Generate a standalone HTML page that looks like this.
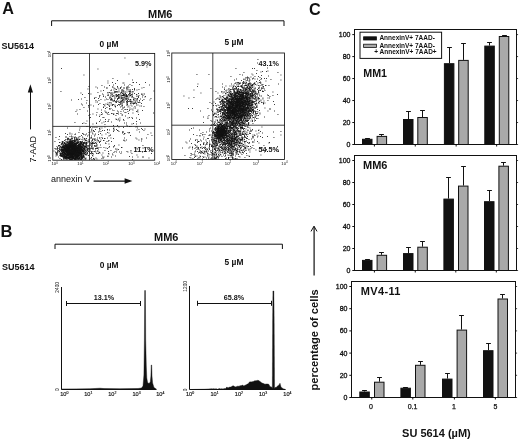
<!DOCTYPE html>
<html lang="en"><head><meta charset="utf-8"><title>SU5614 apoptosis figure</title>
<style>html,body{margin:0;padding:0;background:#fff}body{width:520px;height:440px;overflow:hidden}svg{display:block}text{font-family:"Liberation Sans", Arial, Helvetica, sans-serif;fill:#111}</style>
</head><body>
<svg width="520" height="440" viewBox="0 0 520 440">
<rect x="0" y="0" width="520" height="440" fill="#fff"/>
<text x="2.2" y="13.6" font-size="16.2" font-weight="bold" text-anchor="start">A</text>
<text x="0.6" y="237" font-size="16.6" font-weight="bold" text-anchor="start">B</text>
<text x="309" y="15" font-size="16.2" font-weight="bold" text-anchor="start">C</text>
<text x="160.2" y="18" font-size="11" font-weight="bold" text-anchor="middle">MM6</text>
<path d="M51.6 26V20.8H284V26" fill="none" stroke="#111" stroke-width="1"/>
<text x="1.6" y="49.4" font-size="9" font-weight="bold" text-anchor="start">SU5614</text>
<text x="109" y="47.4" font-size="8.4" font-weight="bold" text-anchor="middle">0 µM</text>
<text x="234" y="45" font-size="8.4" font-weight="bold" text-anchor="middle">5 µM</text>
<path d="M72 152.5h.9M71 147.5h.9M70 147h.9M72.5 157h.9M69.5 149h.9M74.5 153h.9M72.5 147.5h.9M72 154h.9M65.5 149.5h.9M62.5 146h.9M63 150.5h.9M66 152.5h.9M73 150.5h.9M59.5 149h.9M72 152h.9M64.5 149.5h.9M67.5 148h.9M77.5 148h.9M72 155h.9M69.5 151h.9M73 151.5h.9M66 151.5h.9M79 145h.9M76.5 152h.9M69 159.5h.9M76 146.5h.9M72.5 153.5h.9M71.5 154h.9M79.5 148.5h.9M73 149.5h.9M73 146.5h.9M69.5 150.5h.9M76.5 156h.9M65.5 148h.9M75.5 143h.9M70 151h.9M78.5 154h.9M70.5 150h.9M71 157.5h.9M70 150h.9M74 151h.9M71 146.5h.9M72 149.5h.9M78 154h.9M70.5 155.5h.9M72 153.5h.9M65.5 152.5h.9M64 143h.9M70.5 147.5h.9M68 148.5h.9M73 153.5h.9M71.5 150.5h.9M75.5 153.5h.9M67 151h.9M72.5 147h.9M73.5 148h.9M77 152h.9M72.5 149h.9M71.5 143h.9M66.5 153h.9M61.5 155h.9M63.5 154.5h.9M68 154.5h.9M73 145h.9M78.5 157h.9M72 150h.9M71.5 147.5h.9M77.5 149h.9M72 148h.9M69 146h.9M78.5 150.5h.9M77 151.5h.9M68.5 150h.9M69.5 151.5h.9M80.5 148.5h.9M67 152.5h.9M79 145.5h.9M71 148.5h.9M72 151.5h.9M68.5 153h.9M66.5 146.5h.9M79 149h.9M73.5 151h.9M70 149h.9M75.5 150h.9M71.5 151.5h.9M74 149h.9M65.5 155h.9M77 150.5h.9M75 154.5h.9M76.5 155h.9M70 157.5h.9M66 155h.9M74.5 155h.9M81.5 157.5h.9M66.5 144.5h.9M76.5 147h.9M72 154.5h.9M64 142.5h.9M73.5 151.5h.9M71 151.5h.9M68 145h.9M64 153.5h.9M72 153h.9M67.5 148.5h.9M67 147.5h.9M73 148h.9M74 152.5h.9M82.5 145.5h.9M76.5 151h.9M72 145.5h.9M70 154.5h.9M70.5 156h.9M72 142.5h.9M68.5 143h.9M56 149h.9M79 151.5h.9M66.5 147.5h.9M78 152h.9M72.5 151h.9M72.5 154.5h.9M75 152h.9M67 153.5h.9M69 156h.9M66 150.5h.9M72 146h.9M81 157.5h.9M74 140.5h.9M71 150.5h.9M78 152.5h.9M72 157.5h.9M69.5 149.5h.9M63 157.5h.9M77 155h.9M75.5 152h.9M73.5 150.5h.9M80 153.5h.9M72 149h.9M69 158h.9M74.5 151.5h.9M70.5 147h.9M70 150.5h.9M64 150.5h.9M68 155h.9M68.5 153.5h.9M80 150h.9M69 152h.9M72 147h.9M74.5 159.5h.9M66 147h.9M78.5 147.5h.9M77.5 157.5h.9M73.5 153.5h.9M82 150.5h.9M72.5 157.5h.9M77 147.5h.9M68 149h.9M73.5 152.5h.9M70.5 151h.9M73 151h.9M74.5 159h.9M75 151.5h.9M64 153h.9M62.5 145.5h.9M76.5 154h.9M71.5 144.5h.9M70.5 148.5h.9M66.5 151h.9M71.5 146.5h.9M78 155.5h.9M77.5 149.5h.9M75 151h.9M65.5 145.5h.9M76 150.5h.9M73.5 155.5h.9M63.5 148h.9M73 153h.9M73.5 146.5h.9M67.5 154.5h.9M74.5 143.5h.9M79 154h.9M79 149.5h.9M70.5 146.5h.9M85 150.5h.9M80 148.5h.9M73 144.5h.9M66 155.5h.9M74 147h.9M68 150h.9M67 146h.9M64.5 151.5h.9M69 147.5h.9M76.5 149h.9M79.5 148h.9M74 150.5h.9M72 144h.9M75.5 147h.9M63 151h.9M77.5 145h.9M67 148.5h.9M75 148h.9M74.5 147.5h.9M66 144h.9M81.5 150h.9M81.5 147h.9M64.5 147h.9M65.5 154.5h.9M76.5 147.5h.9M65 150h.9M79 139.5h.9M75 147h.9M77.5 147h.9M71 145h.9M67.5 157h.9M76.5 149.5h.9M68 143.5h.9M72 151h.9M72 156.5h.9M81.5 150.5h.9M68.5 151h.9M69 148.5h.9M68.5 147.5h.9M71 149h.9M65.5 151.5h.9M65.5 149h.9M70.5 143h.9M72.5 152h.9M71.5 149.5h.9M72.5 146.5h.9M73.5 152h.9M75 144.5h.9M74.5 152.5h.9M73.5 153h.9M69 150h.9M75.5 153h.9M75 156h.9M77 152.5h.9M64.5 155h.9M71.5 141h.9M74 145h.9M65.5 148.5h.9M78.5 150h.9M73.5 158.5h.9M80 151h.9M71 146h.9M74 152h.9M77 148h.9M75 155.5h.9M74 150h.9M63.5 150h.9M69 148h.9M61 150h.9M76.5 153h.9M69 151h.9M76 140h.9M71.5 153.5h.9M75.5 158.5h.9M73.5 154.5h.9M76.5 159.5h.9M71.5 151h.9M73 157h.9M67.5 150.5h.9M71 154.5h.9M67.5 152.5h.9M69 145h.9M77.5 153.5h.9M74.5 149.5h.9M77.5 150.5h.9M77.5 147.5h.9M68 152h.9M68.5 154h.9M73.5 147.5h.9M72.5 150h.9M77 148.5h.9M70 156.5h.9M83.5 159.5h.9M67.5 152h.9M74.5 148h.9M64 145.5h.9M75.5 148h.9M71.5 152h.9M78 151h.9M71 154h.9M64 147h.9M77 151h.9M71 150h.9M78.5 153.5h.9M75.5 149h.9M82 158.5h.9M75 154h.9M62 154h.9M71 153h.9M63.5 153h.9M60.5 156.5h.9M73.5 156h.9M82 151.5h.9M63 147.5h.9M66 149h.9M72.5 143h.9M64 151h.9M81.5 159.5h.9M69 157h.9M70.5 151.5h.9M67 150h.9M83.5 151h.9M71 153.5h.9M75.5 146.5h.9M71 155h.9M79.5 143.5h.9M69 149h.9M75.5 154h.9M76 150h.9M69 153.5h.9M67.5 143h.9M70.5 145h.9M69 153h.9M74 158h.9M66 153h.9M69 143h.9M75.5 151h.9M74 151.5h.9M75.5 151.5h.9M78.5 153h.9M74 153h.9M65 150.5h.9M71 152h.9M65.5 158h.9M72 148.5h.9M72.5 148.5h.9M75 148.5h.9M72 155.5h.9M85 147h.9M70 148h.9M67.5 147.5h.9M70 142.5h.9M65 149.5h.9M63.5 149.5h.9M76 153.5h.9M72 147.5h.9M66.5 148h.9M79.5 152h.9M78 149.5h.9M77 149h.9M76 149h.9M78.5 149.5h.9M72.5 151.5h.9M79 152.5h.9M76 152.5h.9M73 158.5h.9M67.5 151h.9M74.5 154.5h.9M70 152.5h.9M73 147h.9M82.5 150.5h.9M76 152h.9M65.5 155.5h.9M72 157h.9M73 148.5h.9M69.5 142.5h.9M68.5 150.5h.9M78 145.5h.9M78 148.5h.9M66.5 156.5h.9M71.5 146h.9M70.5 155h.9M74 154h.9M70 156h.9M73.5 155h.9M78 153.5h.9M83.5 148h.9M81.5 158.5h.9M62.5 147.5h.9M75.5 154.5h.9M76 151h.9M74.5 154h.9M61 154h.9M67 155h.9M74 147.5h.9M67.5 145h.9M77.5 151.5h.9M77.5 150h.9M70 159.5h.9M74 158.5h.9M70.5 153h.9M71 144h.9M71 142h.9M74 148.5h.9M73.5 145.5h.9M63.5 147h.9M62 147.5h.9M80 147h.9M75.5 145.5h.9M73.5 150h.9M81 152h.9M73 147.5h.9M75 150.5h.9M81 143h.9M70.5 148h.9M71 145.5h.9M78 147h.9M68 149.5h.9M68.5 155h.9M76.5 150h.9M66.5 145h.9M68.5 142h.9M76 148.5h.9M78 146.5h.9M79.5 141.5h.9M66.5 150h.9M78 142.5h.9M73 152h.9M83.5 145.5h.9M76 149.5h.9M70 146.5h.9M71.5 155.5h.9M74 153.5h.9M71.5 150h.9M76 147h.9M68.5 149.5h.9M68.5 156h.9M75.5 146h.9M68.5 158.5h.9M78.5 152h.9M69 147h.9M84 148h.9M74.5 155.5h.9M69.5 148h.9M64 147.5h.9M69 150.5h.9M63 146.5h.9M80.5 142.5h.9M70.5 152h.9M72 143.5h.9M71.5 148h.9M69.5 152h.9M75.5 155h.9M69.5 155h.9M78 156h.9M79 150.5h.9M71.5 154.5h.9M65.5 152h.9M69.5 150h.9M63.5 147.5h.9M75 158.5h.9M72 145h.9M68 145.5h.9M66 156.5h.9M73.5 145h.9M75.5 156.5h.9M70.5 152.5h.9M75.5 156h.9M78.5 156h.9M64.5 151h.9M74 149.5h.9M77 150h.9M77 155.5h.9M74 141h.9M69 149.5h.9M70 146h.9M68.5 154.5h.9M70 147.5h.9M73 154.5h.9M69 152.5h.9M68.5 157h.9M76 155h.9M78.5 152.5h.9M74.5 153.5h.9M79 153h.9M66.5 145.5h.9M80 148h.9M81 155.5h.9M80 144.5h.9M64.5 156h.9M69 154h.9M73 140.5h.9M68.5 152h.9M80 152.5h.9M79.5 158.5h.9M72.5 150.5h.9M64 155h.9M85.5 154h.9M68.5 146h.9M65.5 146h.9M69.5 143.5h.9M65.5 144.5h.9M82 145h.9M69 155h.9M80.5 150h.9M66.5 146h.9M65.5 147.5h.9M75 153.5h.9M75 144h.9M80 142.5h.9M85.5 146.5h.9M77 156.5h.9M66.5 154h.9M68.5 141h.9M86.5 154h.9M81.5 147.5h.9M79.5 158h.9M61 144.5h.9M82 156.5h.9M77 146h.9M73 158h.9M67.5 146.5h.9M66 157.5h.9M84 153.5h.9M70.5 154.5h.9M75 149h.9M70 144h.9M70 145.5h.9M72.5 153h.9M65 148h.9M80.5 155h.9M70.5 157.5h.9M64.5 157.5h.9M69 140h.9M85.5 158h.9M67 152h.9M65 148.5h.9M74.5 152h.9M78 151.5h.9M84 148.5h.9M73.5 143.5h.9M67.5 153.5h.9M70.5 149h.9M85.5 155h.9M72 150.5h.9M68 147.5h.9M67 149.5h.9M66 158h.9M74.5 158.5h.9M76 157.5h.9M78 158.5h.9M78.5 148.5h.9M68.5 148.5h.9M74.5 145.5h.9M82.5 156h.9M74.5 144h.9M62.5 155.5h.9M79 146.5h.9M73 157.5h.9M71 149.5h.9M80 147.5h.9M76.5 146h.9M59 151.5h.9M66.5 149.5h.9M80 146.5h.9M67 157.5h.9M72 146.5h.9M69.5 154.5h.9M75.5 150.5h.9M69 151.5h.9M63.5 146h.9M74 156.5h.9M83 154h.9M62 150.5h.9M70.5 149.5h.9M79 148.5h.9M69.5 156h.9M61 148h.9M67 146.5h.9M68 148h.9M80.5 152.5h.9M76.5 148h.9M71 156h.9M67 148h.9M82.5 152h.9M79.5 152.5h.9M75 145.5h.9M71 142.5h.9M66 147.5h.9M68 151h.9M80 155h.9M65 144h.9M66 149.5h.9M72.5 142.5h.9M67 151.5h.9M67.5 153h.9M62 156.5h.9M74 155.5h.9M73 156.5h.9M78.5 151h.9M65.5 154h.9M61 151h.9M72.5 141.5h.9M75.5 148.5h.9M76.5 143.5h.9M76 147.5h.9M71 147h.9M68.5 144h.9M68 150.5h.9M83.5 151.5h.9M69 154.5h.9M81 153.5h.9M68.5 155.5h.9M64.5 153h.9M67.5 155h.9M67 142.5h.9M77.5 148.5h.9M70.5 145.5h.9M65.5 146.5h.9M60.5 154.5h.9M66.5 147h.9M64.5 159h.9M68 152.5h.9M70 155.5h.9M81.5 152.5h.9M74 148h.9M69.5 148.5h.9M62 149.5h.9M69 145.5h.9M67.5 151.5h.9M77.5 155.5h.9M67 155.5h.9M72.5 156h.9M81 151h.9M70.5 146h.9M83 152h.9M77 147h.9M81 148.5h.9M75 152.5h.9M77.5 157h.9M71 151h.9M79.5 151h.9M82.5 147.5h.9M78.5 146.5h.9M75 157.5h.9M62.5 151h.9M70 153.5h.9M67 154h.9M64.5 153.5h.9M80 157h.9M68.5 146.5h.9M66 146.5h.9M72.5 148h.9M81 154h.9M66.5 151.5h.9M81.5 157h.9M69.5 145.5h.9M79 156h.9M73.5 144h.9M81 152.5h.9M78.5 149h.9M74.5 145h.9M68.5 151.5h.9M70 158h.9M76.5 154.5h.9M70.5 153.5h.9M72.5 144h.9M65.5 159h.9M65.5 157.5h.9M75 150h.9M66.5 155.5h.9M81 147.5h.9M74 159.5h.9M69.5 153.5h.9M82 150h.9M78.5 145.5h.9M78 155h.9M75.5 140h.9M72.5 145.5h.9M71 152.5h.9M67.5 157.5h.9M78 146h.9M75 153h.9M76.5 153.5h.9M81 143.5h.9M63 149.5h.9M65 157h.9M68.5 148h.9M66.5 149h.9M81.5 154h.9M70.5 144.5h.9M65 144.5h.9M76 148h.9M73.5 147h.9M68.5 159h.9M62.5 153h.9M73 155h.9M65 151h.9M71.5 143.5h.9M81.5 146.5h.9M79.5 151.5h.9M78 150h.9M79.5 159.5h.9M71.5 148.5h.9M70 152h.9M66.5 157h.9M76.5 148.5h.9M78 150.5h.9M69.5 136.5h.9M72.5 143.5h.9M73.5 149.5h.9M67.5 156h.9M71.5 153h.9M76.5 152.5h.9M71.5 145.5h.9M65.5 153h.9M86.5 155h.9M55 149h.9M73.5 154h.9M79.5 147h.9M80.5 156.5h.9M75 149.5h.9M70 145h.9M66.5 154.5h.9M73 152.5h.9M71 148h.9M73 149h.9M82 154h.9M77.5 158h.9M77.5 151h.9M68.5 142.5h.9M64 154h.9M76.5 151.5h.9M80.5 159h.9M65 147h.9M74 143.5h.9M68.5 149h.9M75.5 149.5h.9M78 153h.9M77 153h.9M62 157h.9M82.5 153.5h.9M70 159h.9M67 142h.9M74.5 158h.9M62.5 156h.9M74.5 150.5h.9M69.5 144h.9M82.5 150h.9M64.5 146h.9M77.5 153h.9M72.5 146h.9M71.5 157.5h.9M79.5 150h.9M80.5 151h.9M74 155h.9M70.5 139h.9M77 154.5h.9M76 155.5h.9M74 146h.9M68 153h.9M66.5 158.5h.9M64.5 152h.9M66 150h.9M69 146.5h.9M77 156h.9M66.5 152h.9M72.5 149.5h.9M74 145.5h.9M66 145h.9M85 152.5h.9M78.5 147h.9M79.5 153.5h.9M69 157.5h.9M66.5 153.5h.9M83 149h.9M71.5 155h.9M77 154h.9M76 154.5h.9M67 149h.9M66.5 148.5h.9M65 145.5h.9M70.5 154h.9M63 148h.9M76 151.5h.9M74.5 147h.9M81.5 149h.9M82 147h.9M75 146.5h.9M78 148h.9M80.5 153.5h.9M63.5 145.5h.9M69.5 157h.9M61.5 149h.9M81.5 148.5h.9M78 157h.9M71.5 156.5h.9M68.5 147h.9M76 154h.9M81 146h.9M64.5 148.5h.9M59 145.5h.9M67 150.5h.9M64 148.5h.9M77.5 152.5h.9M72 143h.9M79 152h.9M68 158.5h.9M79.5 155.5h.9M61 156.5h.9M62.5 154h.9M76 144.5h.9M58.5 148.5h.9M75.5 144.5h.9M85 140.5h.9M79.5 157.5h.9M71 155.5h.9M73 146h.9M69.5 146.5h.9M75 155h.9M83 156.5h.9M79.5 155h.9M70 143.5h.9M76.5 146.5h.9M72.5 144.5h.9M74.5 146h.9M66.5 159h.9M63 142h.9M64 152.5h.9M61.5 150h.9M68 146h.9M67 144.5h.9M74.5 146.5h.9M76.5 145.5h.9M64.5 154.5h.9M70 157h.9M59.5 155h.9M80 150.5h.9M65.5 156h.9M61 151.5h.9M79 154.5h.9M82.5 151h.9M88 155.5h.9M58 150.5h.9M73 159h.9M59.5 152h.9M76.5 150.5h.9M72.5 152.5h.9M67 154.5h.9M72.5 155h.9M79 155.5h.9M70.5 150.5h.9M80.5 154h.9M72 158h.9M85.5 151h.9M65 156h.9M68 155.5h.9M74.5 151h.9M80 154h.9M73.5 143h.9M72.5 154h.9M66 148.5h.9M63.5 152h.9M67.5 145.5h.9M79.5 149.5h.9M68.5 156.5h.9M63.5 149h.9M80 145.5h.9M79 151h.9M65 146.5h.9M62 148h.9M81 144h.9M68 147h.9M80.5 151.5h.9M83 147h.9M66.5 150.5h.9M71 156.5h.9M73 156h.9M67.5 154h.9M62 152.5h.9M62.5 147h.9M64 158h.9M66 152h.9M81.5 153h.9M68.5 157.5h.9M82 141.5h.9M77 157.5h.9M70.5 142h.9M79.5 150.5h.9M79.5 157h.9M61.5 147.5h.9M81 150h.9M81 157h.9M71.5 145h.9M63 152.5h.9M69.5 153h.9M67.5 144h.9M70 154h.9M61.5 152.5h.9M76 145h.9M70.5 159.5h.9M78.5 155.5h.9M64.5 147.5h.9M64 155.5h.9M68 146.5h.9M67.5 149h.9M74 154.5h.9M67.5 155.5h.9M61.5 150.5h.9M84 150h.9M70 153h.9M73 145.5h.9M59.5 150h.9M64 149.5h.9M82 155h.9M74.5 148.5h.9M77 153.5h.9M65 149h.9M75.5 157h.9M79.5 147.5h.9M82.5 151.5h.9M80.5 145.5h.9M71 141h.9M85 154.5h.9M63 157h.9M78 147.5h.9M76.5 158.5h.9M75.5 157.5h.9M76.5 145h.9M68 151.5h.9M70 142h.9M83.5 145h.9M62.5 144h.9M74 156h.9M58.5 152h.9M69.5 144.5h.9M74.5 157h.9M80 151.5h.9M64 156h.9M81 155h.9M70.5 143.5h.9M72 156h.9M77 157h.9M76 156.5h.9M69.5 158h.9M72.5 156.5h.9M70 149.5h.9M80.5 147h.9M75.5 152.5h.9M63 153h.9M79.5 156.5h.9M68 144h.9M73.5 148.5h.9M77.5 142.5h.9M60 154h.9M62 146.5h.9M71.5 149h.9M80.5 155.5h.9M68 153.5h.9M84 146.5h.9M65.5 153.5h.9M72.5 155.5h.9M67.5 156.5h.9M65 151.5h.9M64 145h.9M67.5 149.5h.9M69.5 147h.9M62 156h.9M84 157h.9M68.5 145.5h.9M77.5 159.5h.9M76 153h.9M80 146h.9M70.5 158.5h.9M80 154.5h.9M73.5 157.5h.9M78.5 148h.9M75 147.5h.9M65 158.5h.9M71.5 157h.9M63 151.5h.9M62 143.5h.9M60.5 150.5h.9M76.5 156.5h.9M79 150h.9M65 153h.9M77 143h.9M73 142.5h.9M70.5 157h.9M67 138.5h.9M69.5 143h.9M63 154.5h.9M75.5 143.5h.9M64 146.5h.9M73 150h.9M78.5 155h.9M65.5 151h.9M71 158h.9M73.5 157h.9M74 144.5h.9M76 156h.9M73 143h.9M66 145.5h.9M80.5 157h.9M71.5 147h.9M82 149h.9M78 159h.9M73.5 159h.9M61.5 155.5h.9M84 154h.9M75.5 145h.9M76 143.5h.9M77.5 141.5h.9M71.5 159h.9M76 157h.9M72.5 145h.9M71.5 158.5h.9M69.5 147.5h.9M60.5 155h.9M61 155h.9M59 148h.9M62 150h.9M81.5 149.5h.9M62 153.5h.9M76 158h.9M71 144.5h.9M68 158h.9M70.5 159h.9M67 144h.9M69.5 154h.9M60 146.5h.9M63 156.5h.9M66.5 155h.9M72 159h.9M64.5 150h.9M80.5 149.5h.9M64 157h.9M77 149.5h.9M79 158.5h.9M68 154h.9M62 143h.9M66 154.5h.9M77.5 154.5h.9M81.5 155h.9M67.5 150h.9M63 155.5h.9M64.5 156.5h.9M82.5 143h.9M65.5 150h.9M82.5 157h.9M78 154.5h.9M60 150h.9M66 157h.9M59.5 147.5h.9M75.5 144h.9M81 154.5h.9M72 137h.9M78 156.5h.9M81 153h.9M87 150.5h.9M57 147.5h.9M72.5 158.5h.9M62 153h.9M61 149.5h.9M80 149h.9M62 141.5h.9M72 158.5h.9M71 141.5h.9M74.5 149h.9M75.5 147.5h.9M80 153h.9M64 152h.9M74.5 150h.9M64 148h.9M73.5 144.5h.9M81 149.5h.9M67.5 158.5h.9M75.5 155.5h.9M83.5 153.5h.9M75 156.5h.9M79.5 146.5h.9M74 144h.9M69 158.5h.9M80.5 149h.9M79.5 142h.9M79 147h.9M75 159.5h.9M71 159.5h.9M71.5 156h.9M83.5 157.5h.9M77.5 155h.9M77.5 145.5h.9M74 143h.9M78.5 158h.9M80.5 150.5h.9M56.5 152.5h.9M63 152h.9M79 144.5h.9M77.5 156h.9M84 147h.9M73 154h.9M80.5 158.5h.9M64 149h.9M67.5 158h.9M59.5 142.5h.9M74.5 156.5h.9M78.5 154.5h.9M63.5 152.5h.9M64.5 144h.9M82 151h.9M75 143.5h.9M63 159h.9M61 153.5h.9M64.5 143.5h.9M62.5 154.5h.9M60.5 147h.9M83 151.5h.9M57 149h.9M69.5 152.5h.9M75 158h.9M63.5 151.5h.9M79 153.5h.9M59 151h.9M66 151h.9M82 157.5h.9M75 145h.9M61 155.5h.9M83 155h.9M70 155h.9M62.5 152.5h.9M80.5 153h.9M62 151.5h.9M80 152h.9M70 151.5h.9M61 147h.9M69.5 142h.9M76.5 158h.9M81 158.5h.9M76 159h.9M77.5 159h.9M61 143.5h.9M80 144h.9M74.5 157.5h.9M68.5 152.5h.9M82.5 155.5h.9M81.5 153.5h.9M78.5 159.5h.9M63.5 155h.9M78 143h.9M71 143.5h.9M83 153h.9M57 153h.9M77.5 156.5h.9M85 146.5h.9M64 156.5h.9M61.5 149.5h.9M76 138h.9M79.5 153h.9M80.5 146.5h.9M83.5 148.5h.9M65 157.5h.9M76.5 157h.9M80.5 141.5h.9M70.5 144h.9M81.5 152h.9M67 153h.9M65.5 156.5h.9M78.5 144h.9M66 148h.9M63.5 148.5h.9M74 141.5h.9M71 157h.9M86 147.5h.9M65.5 139.5h.9M72 144.5h.9M82.5 143.5h.9M61 147.5h.9M63.5 153.5h.9M68 144.5h.9M83.5 152h.9M69.5 145h.9M82.5 158h.9M60 153.5h.9M73.5 142h.9M63.5 158.5h.9M67.5 147h.9M78 144.5h.9M83 150.5h.9M80 149.5h.9M83.5 152.5h.9M60.5 148h.9M79.5 154h.9M67 145.5h.9M87 146h.9M69.5 155.5h.9M69.5 157.5h.9M75.5 158h.9M79 147.5h.9M75 146h.9M81 147h.9M65 154.5h.9M72.5 158h.9M67 157h.9M75.5 142.5h.9M70 144.5h.9M73.5 149h.9M77.5 152h.9M64.5 148h.9M79 157.5h.9M80.5 154.5h.9M85.5 146h.9M65 156.5h.9M62.5 146.5h.9M62.5 150.5h.9M71.5 152.5h.9M83 142.5h.9M69 144h.9M91 152.5h.9M81 156.5h.9M80.5 152h.9M61.5 151h.9M70.5 141h.9M61 159.5h.9M70.5 156.5h.9M63.5 154h.9M76.5 159h.9M77 158h.9M78.5 144.5h.9M83 146h.9M84 138.5h.9M75.5 140.5h.9M66 146h.9M82 137h.9M58 146h.9M86.5 147.5h.9M83.5 150.5h.9M91.5 159.5h.9M81.5 142.5h.9M60 155h.9M80 141.5h.9M75 159h.9M77 158.5h.9M66.5 158h.9M89 141.5h.9M77 139.5h.9M83 156h.9M84 142.5h.9M60 153h.9M74 146.5h.9M79.5 146h.9M92 143.5h.9M83.5 143.5h.9M85.5 148.5h.9M81 135.5h.9M84.5 139.5h.9M84.5 151.5h.9M78.5 158.5h.9M80 143.5h.9M86.5 142h.9M59 149.5h.9M85.5 147h.9M76.5 141.5h.9M86 134h.9M69 143.5h.9M83.5 134.5h.9M81.5 146h.9M55.5 156h.9M55.5 137.5h.9M61.5 153.5h.9M91.5 148.5h.9M79 144h.9M82.5 142.5h.9M82.5 138h.9M82 144.5h.9M66.5 157.5h.9M85.5 154.5h.9M86 153h.9M82.5 144h.9M66 142h.9M90.5 145.5h.9M79 130h.9M78.5 146h.9M88.5 149h.9M68 142h.9M90 143h.9M57 148.5h.9M74.5 141.5h.9M64 143.5h.9M65.5 158.5h.9M65 137h.9M85.5 143.5h.9M91 151.5h.9M68.5 139.5h.9M90 153.5h.9M78.5 139.5h.9M67.5 139.5h.9M65.5 143h.9M70.5 141.5h.9M83.5 155h.9M77 143.5h.9M59 146h.9M85.5 149h.9M81.5 151h.9M88.5 141h.9M83 148.5h.9M86 138.5h.9M88 151.5h.9M85 153h.9M83 151h.9M88 148.5h.9M82.5 149h.9M63.5 156.5h.9M74.5 140.5h.9M83.5 146h.9M71 143h.9M62.5 144.5h.9M92 144h.9M86.5 145.5h.9M79.5 128h.9M72 159.5h.9M63 145h.9M65 133.5h.9M84.5 150h.9M91.5 153.5h.9M86 142.5h.9M77.5 143h.9M71.5 139.5h.9M95 151h.9M87 152.5h.9M69 144.5h.9M82.5 148h.9M85.5 139h.9M79.5 139h.9M57.5 151.5h.9M91 143.5h.9M90 151h.9M88.5 147h.9M75 140h.9M71.5 134h.9M87 149.5h.9M81 142h.9M95 142.5h.9M97.5 153.5h.9M77.5 140h.9M78.5 132.5h.9M76.5 142.5h.9M86.5 151.5h.9M80.5 156h.9M83.5 149.5h.9M83 155.5h.9M74.5 143h.9M91 148h.9M80.5 143h.9M81 159.5h.9M91.5 145h.9M68 138.5h.9M67 159h.9M65 145h.9M85.5 145h.9M66.5 143h.9M86 140.5h.9M83.5 157h.9M82 147.5h.9M81 149h.9M85 159h.9M67 141h.9M59.5 155.5h.9M93 139h.9M91.5 143.5h.9M92.5 156h.9M65.5 147h.9M87 153.5h.9M91.5 154h.9M68.5 139h.9M81.5 144.5h.9M76.5 143h.9M53.5 151h.9M87.5 150.5h.9M61 149h.9M69 141.5h.9M63 158h.9M76 139h.9M65.5 141.5h.9M68 157.5h.9M74 142h.9M73.5 137h.9M77.5 142h.9M89.5 148.5h.9M88.5 149.5h.9M57 152h.9M76.5 138h.9M82.5 140h.9M84 153h.9M63 144h.9M54.5 148.5h.9M80.5 145h.9M94 139.5h.9M82.5 147h.9M82.5 144.5h.9M69.5 133h.9M82 146h.9M90 138h.9M92.5 151.5h.9M60.5 145h.9M72 141.5h.9M88.5 145.5h.9M82 133.5h.9M58 157h.9M60 155.5h.9M87 148.5h.9M63.5 159h.9M86 151h.9M97 148.5h.9M85 135h.9M84.5 158.5h.9M84 149h.9M95 149h.9M91.5 138.5h.9M60.5 149.5h.9M84 139h.9M62 142.5h.9M99.5 138h.9M56.5 154.5h.9M78 142h.9M56 155h.9M71 159h.9M62 147h.9M83 145.5h.9M71 136h.9M62.5 149h.9M63 147h.9M65.5 144h.9M68 157h.9M84.5 152h.9M70.5 142.5h.9M64.5 143h.9M86.5 149.5h.9M62 155h.9M65 154h.9M57 155h.9M81 146.5h.9M54.5 141.5h.9M58 145.5h.9M88.5 135h.9M62.5 155h.9M55 152h.9M75 137h.9M88.5 139.5h.9M69 156.5h.9M56.5 153.5h.9M74 138.5h.9M56 153.5h.9M68.5 158h.9M56.5 146.5h.9M60 154.5h.9M94.5 146h.9M57 150h.9M73.5 146h.9M67 147h.9M83.5 156h.9M63.5 150.5h.9M64 157.5h.9M60.5 156h.9M84.5 149.5h.9M84.5 147h.9M79 143h.9M55.5 154h.9M81.5 139.5h.9M76 143h.9M96 148.5h.9M85 143h.9M72.5 141h.9M86.5 142.5h.9M96.5 144.5h.9M86 143.5h.9M92 146h.9M90 149h.9M62.5 150h.9M78.5 145h.9M64.5 158h.9M75 134h.9M75.5 138h.9M71 138.5h.9M79.5 136.5h.9M77.5 140.5h.9M84.5 146.5h.9M99 152.5h.9M86 146h.9M81 142.5h.9M86.5 147h.9M94 145.5h.9M66 159h.9M77.5 146.5h.9M92.5 148.5h.9M57 151h.9M81 148h.9M69.5 141h.9M70 139.5h.9M67 134.5h.9M95.5 152h.9M89 152h.9M62.5 142h.9M78 138h.9M59 142.5h.9M59.5 158.5h.9M64 140.5h.9M80 145h.9M72 140.5h.9M69.5 146h.9M72 138.5h.9M69 142h.9M84.5 141h.9M88 142h.9M85 146h.9M71 137h.9M65 153.5h.9M75.5 159.5h.9M62.5 149.5h.9M76 139.5h.9M94.5 143.5h.9M94 143.5h.9M69.5 134h.9M75 141.5h.9M77 145.5h.9M77.5 141h.9M83 134h.9M88 146h.9M72 142h.9M70 141.5h.9M58.5 139.5h.9M78.5 159h.9M86.5 143.5h.9M85.5 144.5h.9M90.5 132h.9M65.5 157h.9M67 139.5h.9M83 143.5h.9M87 149h.9M91 146.5h.9M99 142h.9M74 139.5h.9M55.5 152.5h.9M77 142.5h.9M78.5 137h.9M80 159.5h.9M59.5 153.5h.9M74.5 134.5h.9M70 141h.9M90.5 143h.9M84.5 147.5h.9M84 143h.9M85.5 142.5h.9M61.5 152h.9M85.5 159h.9M65 146h.9M74 137.5h.9M82.5 149.5h.9M87 136h.9M82.5 157.5h.9M80.5 144.5h.9M66 137h.9M100 145h.9M91.5 142h.9M62.5 148.5h.9M73.5 141h.9M77 139h.9M65 140h.9M61.5 142h.9M70 140h.9M84.5 143.5h.9M59 136.5h.9M79 158h.9M96.5 147h.9M80.5 143.5h.9M67.5 138h.9M65.5 150.5h.9M83 144.5h.9M84 149.5h.9M76.5 155.5h.9M86 144.5h.9M83.5 143h.9M70.5 140.5h.9M87.5 141h.9M67 128h.9M129.5 93h.9M128.5 90h.9M129 93.5h.9M98 98.5h.9M126.5 96.5h.9M125.5 98h.9M128.5 97h.9M114 100.5h.9M120.5 104.5h.9M123 91h.9M141.5 94.5h.9M125 99h.9M114.5 92.5h.9M131.5 102h.9M113.5 93h.9M121.5 96h.9M143.5 106.5h.9M118 97h.9M129.5 90h.9M125.5 96.5h.9M114.5 88.5h.9M110.5 95.5h.9M113.5 90h.9M120.5 103.5h.9M124 88h.9M127 100.5h.9M138.5 89.5h.9M118.5 89h.9M142.5 94h.9M111 90h.9M124.5 98.5h.9M133 104h.9M122.5 99.5h.9M141.5 88h.9M150.5 98.5h.9M126 101.5h.9M110.5 94h.9M126.5 99.5h.9M110.5 90.5h.9M118.5 94.5h.9M127 102h.9M132.5 91.5h.9M118 96h.9M127 96.5h.9M120 94h.9M117 98.5h.9M109.5 103h.9M116.5 95h.9M123.5 93h.9M97.5 92.5h.9M118 104.5h.9M138 93.5h.9M128.5 91.5h.9M136.5 95h.9M111.5 100h.9M124 97h.9M139.5 102.5h.9M121 90h.9M122.5 95.5h.9M130 91.5h.9M131.5 92h.9M119.5 98.5h.9M121.5 95.5h.9M127 109.5h.9M141 106h.9M121 97h.9M129.5 96h.9M136.5 90h.9M126.5 87h.9M115.5 102.5h.9M121.5 98h.9M123 99h.9M116.5 101h.9M107.5 95.5h.9M117 86.5h.9M126.5 90h.9M109.5 109.5h.9M120 88.5h.9M125.5 97h.9M121.5 103h.9M117 80.5h.9M111.5 92.5h.9M128.5 106h.9M127.5 89h.9M137 98.5h.9M114.5 105h.9M126 94.5h.9M109 92.5h.9M110.5 97h.9M122 95.5h.9M121.5 94h.9M131 97h.9M130 99.5h.9M123.5 95.5h.9M126.5 95.5h.9M108 95h.9M130 95.5h.9M118 95h.9M126 95.5h.9M122.5 99h.9M121 87h.9M136 82.5h.9M116 102.5h.9M112 96.5h.9M113.5 95.5h.9M126.5 88h.9M132 94h.9M114.5 106h.9M128.5 99.5h.9M122 92h.9M141 94h.9M138 96.5h.9M125.5 96h.9M125.5 100h.9M132.5 103h.9M140 99h.9M121 92h.9M139 102h.9M130 102h.9M117 96h.9M123.5 102.5h.9M121.5 91h.9M122.5 100h.9M122 98h.9M134 89.5h.9M114 92h.9M123 88h.9M123.5 92h.9M97 88h.9M133 103.5h.9M115 83.5h.9M121.5 102h.9M135.5 102h.9M128 94.5h.9M136 111.5h.9M129 93h.9M116.5 95.5h.9M112 94h.9M123 95.5h.9M124 107h.9M131 94.5h.9M120 102h.9M136.5 99.5h.9M124 85h.9M121.5 97.5h.9M138 97.5h.9M110 93h.9M119 95h.9M132.5 92h.9M127 105h.9M117 92h.9M115 95h.9M130.5 100h.9M134 88.5h.9M113 85h.9M120 87.5h.9M124.5 95.5h.9M129.5 84.5h.9M132.5 97.5h.9M115.5 91.5h.9M122.5 90h.9M120.5 100h.9M100.5 99.5h.9M119.5 104.5h.9M129.5 94h.9M114 97h.9M112.5 87h.9M122 93.5h.9M128 86h.9M115.5 97h.9M134 90h.9M131.5 106h.9M125.5 95h.9M119.5 96.5h.9M121.5 101h.9M120.5 101.5h.9M135.5 98.5h.9M127.5 98h.9M125 93.5h.9M127 103h.9M130 90h.9M118 102h.9M126.5 98h.9M132 96.5h.9M113.5 100.5h.9M123 95h.9M139 100.5h.9M119 102.5h.9M105 97h.9M116 89.5h.9M112.5 101h.9M111 99.5h.9M119 105h.9M130 101.5h.9M114.5 91.5h.9M134.5 100.5h.9M122.5 100.5h.9M118.5 92h.9M120 103h.9M127.5 95.5h.9M134 103h.9M106.5 87.5h.9M116.5 101.5h.9M129.5 95.5h.9M134 93.5h.9M122 100.5h.9M122.5 102h.9M109.5 102.5h.9M129.5 108h.9M119.5 97.5h.9M107.5 81h.9M138 102.5h.9M126.5 92h.9M109.5 98.5h.9M136 94.5h.9M115 106.5h.9M142 100.5h.9M128.5 87.5h.9M126 88h.9M127.5 107h.9M118.5 101h.9M118 98.5h.9M115.5 89.5h.9M126.5 102.5h.9M130.5 95.5h.9M111.5 105h.9M130 93h.9M118 98h.9M129.5 101.5h.9M118.5 97h.9M95.5 102h.9M95.5 100.5h.9M123.5 94h.9M121 98.5h.9M124.5 94.5h.9M117 87h.9M116 96.5h.9M122.5 83h.9M109 85.5h.9M131 102h.9M144.5 97h.9M121 101h.9M126 99h.9M120 93h.9M129.5 109.5h.9M130.5 105h.9M122 105.5h.9M129 101h.9M120.5 95.5h.9M121 92.5h.9M124.5 95h.9M116.5 96h.9M136.5 96.5h.9M125 92h.9M111 98.5h.9M116 92h.9M126.5 103.5h.9M136.5 100.5h.9M123 94h.9M123.5 91h.9M122 90h.9M134.5 106.5h.9M131.5 85.5h.9M115 92h.9M114.5 98.5h.9M107.5 95h.9M118.5 91h.9M121 106h.9M118.5 97.5h.9M142 97h.9M135 103h.9M130 100h.9M131.5 109h.9M134.5 99h.9M99 96h.9M131.5 101.5h.9M113.5 101.5h.9M142 110.5h.9M123 94.5h.9M117 99.5h.9M133.5 108h.9M127 87h.9M109.5 105h.9M111.5 99h.9M132.5 113h.9M92.5 124h.9M90.5 105h.9M105 121.5h.9M132.5 82.5h.9M127 104.5h.9M109 106.5h.9M117 105.5h.9M117 113.5h.9M109 108.5h.9M111 103h.9M103 104.5h.9M92.5 114h.9M110 99.5h.9M122 107h.9M114 100h.9M133.5 102h.9M116 113.5h.9M97.5 109h.9M145 96.5h.9M139 84.5h.9M103.5 117.5h.9M123.5 97h.9M112 87h.9M108 105h.9M86 103h.9M99.5 103.5h.9M98.5 100.5h.9M104 105h.9M128 101.5h.9M111 113.5h.9M96 123h.9M153.5 91h.9M144 94h.9M103 95h.9M134 103.5h.9M126 123h.9M113.5 114h.9M89 109h.9M113 96h.9M116 119.5h.9M96.5 112.5h.9M124 95h.9M137 102h.9M88.5 86.5h.9M153 113h.9M141 103.5h.9M137.5 110h.9M105.5 112.5h.9M104.5 111h.9M114 130h.9M98 104.5h.9M127 101h.9M120 107h.9M127.5 111.5h.9M117 111h.9M118 114h.9M139 119.5h.9M112.5 113.5h.9M111 122h.9M106.5 113h.9M113.5 88h.9M112 104.5h.9M129 132.5h.9M143.5 99.5h.9M101.5 123h.9M94 98.5h.9M132.5 110h.9M126 125h.9M113.5 110.5h.9M109 106h.9M112 100h.9M115 101.5h.9M107.5 92.5h.9M139.5 106h.9M109.5 97.5h.9M116 94.5h.9M81 99h.9M88 105.5h.9M125 116h.9M103 107.5h.9M136.5 126.5h.9M96 115h.9M121.5 109.5h.9M119 121h.9M130 103.5h.9M132 118.5h.9M89.5 114.5h.9M113 125.5h.9M117 95.5h.9M102.5 117.5h.9M124 123h.9M106.5 88.5h.9M110.5 108.5h.9M88.5 115.5h.9M120.5 111.5h.9M107.5 93h.9M113 104.5h.9M103.5 140.5h.9M129 91.5h.9M126 96.5h.9M126 105h.9M95.5 97.5h.9M132 80h.9M104.5 127h.9M133 82.5h.9M117.5 120h.9M102 114h.9M107 114h.9M130.5 126.5h.9M112 95h.9M117.5 88h.9M119.5 120h.9M138 114.5h.9M86.5 121h.9M116.5 91.5h.9M133.5 99h.9M120.5 113.5h.9M140 123h.9M103.5 122h.9M131.5 124h.9M127 126h.9M97 102h.9M129 126.5h.9M101 110h.9M126.5 102h.9M124 100h.9M106 99h.9M105.5 112h.9M108 121h.9M100 120h.9M105 108.5h.9M104.5 100h.9M122 115h.9M118 112h.9M136 118h.9M125.5 109.5h.9M119.5 118h.9M118 94.5h.9M142.5 95.5h.9M135 108h.9M87.5 89h.9M136 105h.9M99 116.5h.9M113 114.5h.9M113 128.5h.9M103 96.5h.9M123.5 107.5h.9M104.5 106h.9M129.5 94.5h.9M122.5 131.5h.9M117 125.5h.9M101.5 85.5h.9M107.5 99.5h.9M132 89.5h.9M84.5 97.5h.9M129 117.5h.9M100.5 91h.9M116 101h.9M121.5 115h.9M123.5 101.5h.9M88 93.5h.9M123 111h.9M132 95h.9M136 103.5h.9M128 113.5h.9M101 112.5h.9M122.5 108.5h.9M111 94h.9M101 114.5h.9M99.5 95.5h.9M110 135h.9M102 94h.9M115 107h.9M112 105.5h.9M107 104.5h.9M110.5 100.5h.9M118 119h.9M125.5 112.5h.9M128 99h.9M123.5 120.5h.9M131.5 117.5h.9M137 99h.9M105 119.5h.9M126.5 89h.9M99 97h.9M105.5 104h.9M124 133.5h.9M96 123.5h.9M137.5 105h.9M90.5 94h.9M112 110h.9M133 123.5h.9M135 102h.9M107.5 83h.9M107.5 121.5h.9M108 112.5h.9M149.5 100h.9M127.5 118h.9M104 138.5h.9M108.5 119.5h.9M131.5 103.5h.9M137.5 112h.9M133 99.5h.9M126.5 98.5h.9M107.5 103h.9M109.5 97h.9M93 106h.9M108.5 136h.9M149 85h.9M123 119.5h.9M124.5 109.5h.9M129 110.5h.9M137 111h.9M90 117.5h.9M137 128h.9M104.5 124.5h.9M124.5 112.5h.9M103 90.5h.9M106.5 107.5h.9M101.5 128h.9M123.5 97.5h.9M115.5 115.5h.9M122 104h.9M108.5 114.5h.9M99.5 115h.9M123.5 83h.9M103 107h.9M120.5 102h.9M138.5 95.5h.9M136 124h.9M146 138h.9M100.5 147.5h.9M99 128.5h.9M151 153.5h.9M108.5 154h.9M118 149.5h.9M116.5 150h.9M142.5 145.5h.9M91 137.5h.9M120.5 153.5h.9M118.5 131.5h.9M96 146h.9M117.5 130.5h.9M144 151.5h.9M93 143.5h.9M105.5 148h.9M127.5 132.5h.9M123.5 140.5h.9M137 149h.9M111 141.5h.9M97.5 151h.9M113 130h.9M141.5 139h.9M117 130.5h.9M114.5 151.5h.9M138.5 140h.9M126.5 151.5h.9M98.5 152h.9M113.5 128h.9M146.5 147.5h.9M92 153.5h.9M137.5 157h.9M109 130h.9M136.5 130h.9M100 141.5h.9M130.5 152h.9M143.5 130.5h.9M149.5 150.5h.9M96.5 127.5h.9M141 141h.9M122 133h.9M92 149h.9M130.5 150.5h.9M121.5 147.5h.9M151.5 135.5h.9M150.5 133h.9M144.5 129h.9M122.5 132.5h.9M141 139h.9M135.5 138h.9M107 129.5h.9M136.5 155h.9M108.5 133h.9M116 129.5h.9M95 134h.9M98.5 141.5h.9M121 147.5h.9M142 129.5h.9M139 132h.9M99.5 128h.9M123.5 140h.9M102.5 153h.9M112.5 155h.9M132 157h.9M147.5 134.5h.9M108 141h.9M136.5 139h.9M121 152h.9M114 145.5h.9M139.5 147.5h.9M91 136h.9M148.5 158h.9M107 148.5h.9M142.5 148h.9M142 152h.9M142 157h.9M128.5 133h.9M130 135.5h.9M93 159h.9M116.5 149h.9M129 156.5h.9M107 138h.9M132 159.5h.9M124.5 141h.9M131.5 153.5h.9M143 157h.9M110.5 150.5h.9M92.5 142.5h.9M102 130.5h.9M92 155.5h.9M92.5 134h.9M105.5 134h.9M113 131.5h.9M94.5 138.5h.9M94.5 140.5h.9M100 133.5h.9M107 132.5h.9M96.5 142h.9M90 127.5h.9M105 143h.9M104 130.5h.9M94 131.5h.9M93 131h.9M101.5 155h.9M94 159.5h.9M96 153.5h.9M96 143.5h.9M100.5 140h.9M94.5 146.5h.9M135.5 148h.9M124 138h.9M111 157h.9M101.5 158.5h.9M93.5 158.5h.9M103.5 147.5h.9M108.5 147.5h.9M92 140.5h.9M113.5 152.5h.9M95 129.5h.9M94.5 135h.9M108 151.5h.9M92 133h.9M93 154h.9M141 128.5h.9M96.5 140h.9M112 154h.9M96.5 159h.9M127.5 152h.9M123.5 134.5h.9M107.5 156.5h.9M122.5 132h.9M126 140h.9M93 149h.9M99 138h.9M110.5 138h.9M106.5 141.5h.9M103.5 157h.9M99 142.5h.9M107 130h.9M113 138.5h.9M113.5 146.5h.9M118.5 145h.9M93 158.5h.9M108.5 144h.9M99.5 153h.9M116 152h.9M92 142.5h.9M91 141h.9M93.5 142h.9M91.5 131h.9M91 130h.9M99 131h.9M100.5 131.5h.9M99.5 129.5h.9M97 140h.9M98 132h.9M98 140.5h.9M118.5 127h.9M98 149h.9M104.5 150.5h.9M90.5 158.5h.9M101.5 135h.9M101.5 137.5h.9M94 151.5h.9M98.5 147.5h.9M92.5 147.5h.9M103 158h.9M92.5 127.5h.9M95 140h.9M95.5 158h.9M123 127.5h.9M97 138h.9M119 152h.9M138.5 129.5h.9M109 146.5h.9M91 157.5h.9M90.5 144.5h.9M135.5 127h.9M93 130.5h.9M108.5 140.5h.9M94.5 127.5h.9M115 149h.9M94 136h.9M104.5 138.5h.9M91.5 153h.9M97 151h.9M98 153.5h.9M124.5 133.5h.9M102 138.5h.9M90.5 148h.9M105.5 143.5h.9M103 140.5h.9M102 157h.9M98 134.5h.9M95 148.5h.9M108 153.5h.9M92 139.5h.9M107.5 156h.9M113 147h.9M97 148h.9M109.5 135.5h.9M115 156h.9M91.5 129h.9M96.5 145.5h.9M95 146h.9M61 68.5h.9M78 99.5h.9M60.5 91.5h.9M83.5 75h.9M80.5 93h.9M86.5 100.5h.9M77 114h.9M86.5 126.5h.9M74.5 122.5h.9M79.5 109.5h.9M89 118h.9M82 94.5h.9M87 111h.9M75.5 111.5h.9M76.5 110h.9M82 105h.9M83.5 107.5h.9M94 98h.9M85.5 123.5h.9M71 100h.9M81 104h.9M88.5 132.5h.9M88 107h.9M82 123.5h.9M83.5 123h.9M124.5 58h.9M128.5 74h.9M146.5 67h.9M95.5 87h.9M143.5 87.5h.9M112 82.5h.9M115.5 119h.9M145 82.5h.9M97.5 69h.9M99 121.5h.9M133 100h.9M136 121.5h.9M104 87h.9M133.5 98h.9M112.5 78.5h.9" stroke="#111" stroke-width="0.9" fill="none"/>
<rect x="52.8" y="53.4" width="101.9" height="106.8" fill="none" stroke="#111" stroke-width=".85"/>
<line x1="89.5" y1="53.4" x2="89.5" y2="160.2" stroke="#111" stroke-width="0.8"/>
<line x1="52.8" y1="126.4" x2="154.7" y2="126.4" stroke="#111" stroke-width="0.8"/>
<text x="151.5" y="66" font-size="7.2" font-weight="bold" text-anchor="end">5.9%</text>
<text x="153.6" y="152.4" font-size="7.2" font-weight="bold" text-anchor="end">11.1%</text>
<path d="M232.5 121h.9M237 97h.9M240 108h.9M228.5 100h.9M244.5 103.5h.9M223 110h.9M227.5 98h.9M264 117h.9M234.5 107h.9M232 98h.9M246.5 91h.9M248.5 111.5h.9M248.5 95h.9M216.5 112h.9M222.5 107.5h.9M244 118.5h.9M239 109h.9M242.5 103h.9M229.5 117.5h.9M240.5 108.5h.9M221.5 109h.9M232 106h.9M241.5 116.5h.9M244 116h.9M239.5 97.5h.9M242.5 99.5h.9M235 108h.9M243 97h.9M243.5 106.5h.9M246.5 110.5h.9M223.5 102.5h.9M228.5 100.5h.9M241.5 122.5h.9M240 109.5h.9M229.5 86h.9M238.5 102h.9M245.5 95h.9M239.5 113.5h.9M234 125h.9M239.5 105h.9M227 109h.9M236 123.5h.9M234 103.5h.9M222 145.5h.9M244 123.5h.9M233 117.5h.9M227 110.5h.9M223 108.5h.9M238.5 114h.9M258.5 102h.9M250 102h.9M242 104.5h.9M257.5 112h.9M243.5 124.5h.9M237.5 118h.9M234.5 108.5h.9M235 114.5h.9M228.5 101.5h.9M242.5 108h.9M242 105.5h.9M231 103h.9M237 104.5h.9M223.5 114h.9M252.5 92.5h.9M238.5 103.5h.9M233 137h.9M240 117.5h.9M243 113.5h.9M235.5 100h.9M250 110.5h.9M224.5 120h.9M229.5 118h.9M229 116.5h.9M231 116.5h.9M238.5 105.5h.9M232.5 107.5h.9M256 103h.9M227 97.5h.9M230.5 76.5h.9M249.5 108.5h.9M243.5 92.5h.9M254.5 96.5h.9M237.5 113h.9M241 127.5h.9M227.5 115.5h.9M237 92.5h.9M258.5 100h.9M239 107.5h.9M249.5 118.5h.9M248 108h.9M234.5 110.5h.9M253.5 95h.9M238 100h.9M236.5 111h.9M226.5 116h.9M238 111h.9M241.5 111.5h.9M246.5 111h.9M231 96.5h.9M245.5 113h.9M235.5 101.5h.9M240 106h.9M256.5 99h.9M228 110.5h.9M232.5 122.5h.9M221 117h.9M228.5 123.5h.9M253.5 93h.9M232 101.5h.9M225 98.5h.9M232.5 113h.9M248 112h.9M232.5 106h.9M242 99.5h.9M227.5 116h.9M249 103h.9M236.5 109h.9M217.5 122.5h.9M224 103h.9M222.5 113.5h.9M238 119h.9M254.5 117.5h.9M231 105h.9M222 105h.9M235.5 126.5h.9M243.5 107.5h.9M247 121h.9M231.5 98h.9M246 89h.9M244.5 93.5h.9M232 110.5h.9M250 105h.9M239.5 107.5h.9M223 112h.9M259 110.5h.9M234.5 104h.9M241 96h.9M237 108.5h.9M222.5 106.5h.9M250.5 98h.9M247.5 109.5h.9M226 105.5h.9M227.5 109.5h.9M225 127.5h.9M235.5 116h.9M215.5 105.5h.9M241 106h.9M229.5 109.5h.9M240 120.5h.9M241 125h.9M233.5 100.5h.9M248 105.5h.9M238 111.5h.9M237 114.5h.9M230.5 103h.9M241 103.5h.9M232.5 110.5h.9M248.5 110.5h.9M241 105h.9M233 102h.9M241.5 92.5h.9M247 104.5h.9M240.5 96.5h.9M233 114h.9M240 116.5h.9M243 92h.9M251.5 105.5h.9M241 109.5h.9M225.5 122.5h.9M239.5 111h.9M247 111h.9M239.5 120h.9M234.5 107.5h.9M236.5 104h.9M248.5 95.5h.9M232.5 115.5h.9M240 104h.9M238 112h.9M221.5 121h.9M239.5 114.5h.9M235 108.5h.9M238.5 97h.9M243 120.5h.9M243.5 104.5h.9M241 117h.9M238.5 112.5h.9M224.5 112h.9M225 102h.9M242 87.5h.9M248.5 97h.9M229.5 116h.9M236 106.5h.9M239.5 106.5h.9M232 109.5h.9M238 99.5h.9M230 114h.9M228 120.5h.9M222 116h.9M244 104h.9M233.5 112h.9M226.5 127h.9M231.5 108.5h.9M234 126.5h.9M224 105.5h.9M232 110h.9M241 115.5h.9M242.5 102.5h.9M233.5 117h.9M232 97.5h.9M232.5 117.5h.9M243.5 97.5h.9M222 84h.9M238.5 123.5h.9M240 92.5h.9M233.5 108.5h.9M238 99h.9M234.5 109.5h.9M241 102h.9M255.5 99.5h.9M245.5 93h.9M238 113h.9M244 115.5h.9M242.5 98h.9M233 107.5h.9M248.5 108h.9M237.5 100h.9M237 105h.9M235 109h.9M236 112h.9M243.5 118h.9M252.5 107.5h.9M244 107h.9M234 108.5h.9M258 97.5h.9M236 98.5h.9M232 118h.9M238 131.5h.9M235 115.5h.9M224.5 110h.9M237 110.5h.9M250.5 99h.9M222 114.5h.9M246.5 115.5h.9M228 108h.9M248 103h.9M220.5 120h.9M232 105.5h.9M240.5 107h.9M233 105h.9M225 126h.9M245 111h.9M235.5 107.5h.9M225.5 112.5h.9M240 119h.9M232.5 113.5h.9M226 101.5h.9M239.5 108h.9M233.5 116.5h.9M233.5 101.5h.9M238 108.5h.9M231 119h.9M239 103.5h.9M238 103h.9M238 83h.9M246.5 99.5h.9M238.5 108h.9M224 114.5h.9M233.5 119.5h.9M250.5 108h.9M237 91.5h.9M240.5 108h.9M224 98.5h.9M238 105.5h.9M232.5 135.5h.9M229.5 105h.9M227.5 106.5h.9M238.5 111.5h.9M240.5 105.5h.9M235 103h.9M233 123.5h.9M233.5 102.5h.9M240 112h.9M242 121.5h.9M227.5 108h.9M234 130.5h.9M241.5 120.5h.9M242.5 94h.9M247.5 108.5h.9M241 96.5h.9M233.5 124h.9M251 112h.9M247 98.5h.9M241.5 108h.9M233 102.5h.9M227.5 105h.9M232 111.5h.9M229.5 114.5h.9M243 104h.9M217 111h.9M240.5 111.5h.9M238.5 92.5h.9M228.5 110.5h.9M251.5 109.5h.9M236.5 96.5h.9M242 84h.9M254.5 104h.9M232 128h.9M243 109.5h.9M230 108.5h.9M240 89.5h.9M234.5 106.5h.9M247 105.5h.9M248.5 102.5h.9M240 104.5h.9M242.5 98.5h.9M230 94.5h.9M237 107.5h.9M234.5 116.5h.9M242.5 82.5h.9M240 125h.9M235 116h.9M237 115h.9M240.5 89.5h.9M238.5 123h.9M234 109h.9M235.5 102.5h.9M229.5 92.5h.9M233.5 107.5h.9M249 113h.9M229.5 110.5h.9M224.5 107.5h.9M233.5 118h.9M241.5 108.5h.9M226.5 119h.9M256 107.5h.9M246.5 114h.9M243 103.5h.9M244.5 105h.9M234 103h.9M231 123h.9M246 89.5h.9M234 95.5h.9M237 101h.9M231.5 105.5h.9M243 90h.9M223.5 110.5h.9M241.5 105.5h.9M238.5 100h.9M245.5 101h.9M225.5 117.5h.9M217 110h.9M235 96.5h.9M224 120.5h.9M219.5 107h.9M240 111h.9M219.5 97h.9M241.5 112.5h.9M244.5 92.5h.9M227 112.5h.9M231 111h.9M241.5 112h.9M259.5 113h.9M238.5 110.5h.9M241.5 102h.9M229 100h.9M247 95.5h.9M220 97h.9M246 88h.9M241.5 110h.9M247.5 99.5h.9M235.5 103.5h.9M244 110.5h.9M238.5 101h.9M239.5 95.5h.9M236 102.5h.9M236 116h.9M234 115h.9M235 118.5h.9M232.5 114h.9M234 91.5h.9M229.5 126.5h.9M233.5 111h.9M258 115.5h.9M230 103h.9M239 94h.9M235.5 103h.9M225 110.5h.9M244.5 117.5h.9M225 111.5h.9M258 85.5h.9M230.5 110h.9M227.5 117.5h.9M232.5 109h.9M246.5 108h.9M226 104h.9M239 117.5h.9M239 99h.9M235 107.5h.9M253 112h.9M237 99.5h.9M242.5 134.5h.9M250 103h.9M230.5 106h.9M244 117h.9M248 122.5h.9M234 120h.9M241 110h.9M236.5 122h.9M233 118h.9M241 119.5h.9M229.5 101.5h.9M232 125.5h.9M227 99h.9M228.5 101h.9M235 109.5h.9M230.5 117.5h.9M233 110h.9M230 99h.9M241.5 103.5h.9M234.5 101.5h.9M243.5 115h.9M252 109.5h.9M249 105.5h.9M243 109h.9M227 101h.9M253 112.5h.9M241.5 109h.9M238 104.5h.9M225.5 127.5h.9M233.5 104h.9M233.5 90h.9M221.5 106.5h.9M235.5 123.5h.9M231 101h.9M226 115h.9M238.5 104.5h.9M234.5 103h.9M235 86.5h.9M239 101h.9M247 126h.9M230.5 124.5h.9M226.5 124h.9M255 112.5h.9M240 97h.9M248 111.5h.9M245 106h.9M231 99.5h.9M237 111h.9M237.5 94.5h.9M247.5 105h.9M236 113h.9M231.5 110.5h.9M239.5 93.5h.9M236.5 110.5h.9M220.5 110.5h.9M240.5 107.5h.9M243.5 100.5h.9M231.5 100h.9M222 112.5h.9M229 115h.9M236 96.5h.9M235.5 98.5h.9M223.5 103h.9M236 122h.9M223.5 116.5h.9M245 85.5h.9M239 103h.9M226 103.5h.9M220 119.5h.9M242.5 114.5h.9M241 101.5h.9M226.5 121.5h.9M233.5 118.5h.9M240.5 113h.9M237 105.5h.9M233.5 117.5h.9M226.5 108h.9M245 113h.9M234.5 117.5h.9M235.5 101h.9M244 117.5h.9M245.5 113.5h.9M243.5 100h.9M247 101.5h.9M228 109.5h.9M238.5 91.5h.9M246.5 103.5h.9M227 118.5h.9M240 106.5h.9M238 102.5h.9M234 116.5h.9M233.5 105h.9M225.5 118.5h.9M242.5 107h.9M227.5 103.5h.9M255.5 92h.9M250 109h.9M232.5 112h.9M231 104.5h.9M241 118h.9M251.5 110.5h.9M241.5 104h.9M233 86.5h.9M235.5 132h.9M220 111.5h.9M238.5 112h.9M238.5 110h.9M241 99.5h.9M240.5 97h.9M235.5 104h.9M243 112h.9M242 94h.9M227 112h.9M233 100.5h.9M227 118h.9M245 104h.9M234.5 119.5h.9M235 105.5h.9M236 101.5h.9M234.5 111h.9M240.5 111h.9M228.5 102.5h.9M234 97h.9M247.5 92h.9M235 92.5h.9M248.5 102h.9M245 109.5h.9M234.5 105.5h.9M238 115.5h.9M231.5 99.5h.9M239 106h.9M238.5 126.5h.9M239.5 117.5h.9M254 121h.9M246.5 132h.9M232.5 118h.9M229 107h.9M233 117h.9M231.5 114.5h.9M249.5 94.5h.9M222.5 113h.9M240 98.5h.9M234.5 127.5h.9M228.5 95.5h.9M248 119h.9M240 120h.9M258 102.5h.9M220 104.5h.9M250 93.5h.9M234 108h.9M247 121.5h.9M223 104h.9M229 101.5h.9M243.5 102h.9M231 102.5h.9M232 104.5h.9M232.5 111.5h.9M233 110.5h.9M232 114h.9M233.5 105.5h.9M224.5 102h.9M218.5 128.5h.9M233.5 107h.9M242 105h.9M237 101.5h.9M238 92h.9M255 104.5h.9M237 92h.9M245.5 115h.9M235.5 87h.9M232.5 88.5h.9M247 102.5h.9M242 110.5h.9M237.5 106.5h.9M233 112.5h.9M230 106.5h.9M243 104.5h.9M237 115.5h.9M248.5 125.5h.9M231 94.5h.9M235 97h.9M236 92h.9M238 118.5h.9M234 123.5h.9M238 101h.9M251 102h.9M228.5 114.5h.9M239 105h.9M241.5 113h.9M239 110h.9M243 93.5h.9M258 99h.9M234.5 122.5h.9M244.5 125.5h.9M221.5 109.5h.9M222.5 96.5h.9M233 95.5h.9M239.5 109h.9M222 96.5h.9M244.5 107h.9M246.5 101.5h.9M252 115.5h.9M235 102.5h.9M230 112h.9M221 100.5h.9M235.5 110h.9M252.5 101.5h.9M233 89.5h.9M230 96.5h.9M240 115h.9M229.5 95.5h.9M232 100h.9M237.5 109.5h.9M239.5 104h.9M242.5 123.5h.9M244.5 106h.9M231.5 101.5h.9M233 120.5h.9M231 102h.9M233.5 126.5h.9M242 113.5h.9M229 118h.9M231.5 111.5h.9M232 112h.9M222 127.5h.9M237.5 114h.9M245 108h.9M234.5 105h.9M235 120.5h.9M223 111h.9M230.5 107h.9M234.5 109h.9M237.5 121.5h.9M215 116.5h.9M232.5 108.5h.9M242.5 100.5h.9M228.5 88.5h.9M222.5 121h.9M230 89.5h.9M237 103.5h.9M226.5 103h.9M226 92h.9M226 103h.9M259 88h.9M236.5 113.5h.9M228.5 106.5h.9M224.5 113h.9M228.5 125h.9M252.5 94.5h.9M225 124h.9M230 116h.9M223.5 92h.9M227.5 116.5h.9M249 104h.9M236.5 102.5h.9M245 97.5h.9M230 112.5h.9M230 101h.9M228 99.5h.9M239.5 98h.9M229 124h.9M243.5 109h.9M225 116h.9M235 123.5h.9M219 102h.9M245 115h.9M253.5 114.5h.9M230 104h.9M236 114h.9M231 114h.9M226.5 117h.9M228 104h.9M242.5 101.5h.9M239.5 107h.9M238 117.5h.9M229.5 96.5h.9M257.5 98h.9M249 93h.9M223.5 130.5h.9M252.5 108h.9M231.5 95h.9M238 96.5h.9M239 109.5h.9M247.5 95.5h.9M220.5 124.5h.9M242.5 109.5h.9M226 116h.9M235.5 95h.9M237 121h.9M234 80h.9M233.5 90.5h.9M236.5 112h.9M232 128.5h.9M244 113.5h.9M232.5 94h.9M251.5 97h.9M229 113.5h.9M242 111.5h.9M248 104.5h.9M238.5 119h.9M235 83h.9M229.5 111.5h.9M242 94.5h.9M236.5 98.5h.9M226.5 107.5h.9M216 109h.9M214.5 124.5h.9M226 99.5h.9M243 115.5h.9M228.5 96h.9M242.5 103.5h.9M242.5 115h.9M237.5 114.5h.9M262.5 99h.9M242.5 111.5h.9M238 104h.9M247 114.5h.9M223.5 124h.9M231 110.5h.9M230.5 119.5h.9M243.5 123.5h.9M262.5 98h.9M233 109.5h.9M245 89.5h.9M250 87.5h.9M250 113.5h.9M246 109h.9M244.5 126.5h.9M243.5 108.5h.9M237.5 90h.9M240.5 95.5h.9M232 103h.9M241.5 127.5h.9M231.5 125h.9M231.5 96.5h.9M255 111.5h.9M259.5 114h.9M235.5 107h.9M228 119h.9M228 107h.9M238.5 94h.9M231.5 107.5h.9M251 92h.9M236 105.5h.9M225 93.5h.9M225 120.5h.9M243.5 118.5h.9M232.5 119h.9M236 118.5h.9M242.5 106h.9M239.5 114h.9M245 115.5h.9M233 106h.9M241 99h.9M242.5 118h.9M234 105h.9M248.5 108.5h.9M233 107h.9M224 109.5h.9M236 109h.9M230 102h.9M243 123.5h.9M245 96.5h.9M248.5 123h.9M250.5 116h.9M238.5 109.5h.9M213 115.5h.9M255 92h.9M223.5 109.5h.9M234.5 113h.9M230.5 106.5h.9M231 122h.9M231 117.5h.9M220 113.5h.9M252 91h.9M238.5 107h.9M234.5 111.5h.9M243 101h.9M238.5 113h.9M221.5 123h.9M231.5 99h.9M247 107h.9M244 103h.9M235 98.5h.9M218 114.5h.9M245 119h.9M236.5 111.5h.9M239 113.5h.9M235 94h.9M234.5 91.5h.9M239.5 108.5h.9M227 133h.9M243 103h.9M237 120h.9M232.5 110h.9M242.5 96h.9M245 105.5h.9M252 97.5h.9M231 94h.9M240 93h.9M236 121h.9M244 98h.9M227 100.5h.9M228.5 91h.9M224 89.5h.9M235.5 97.5h.9M228.5 117h.9M241 113h.9M236.5 119h.9M232.5 98.5h.9M236.5 107.5h.9M234.5 128h.9M245.5 107h.9M261.5 88h.9M237.5 113.5h.9M263 103h.9M237.5 105h.9M246 103h.9M247.5 102h.9M244 114h.9M252 102h.9M248.5 118.5h.9M253 109.5h.9M238.5 117.5h.9M238 94.5h.9M230 121.5h.9M234 117.5h.9M238 110h.9M247.5 109h.9M237.5 110.5h.9M246.5 97h.9M224 113h.9M242.5 108.5h.9M237 112h.9M228.5 89.5h.9M251.5 93h.9M237.5 100.5h.9M220 124.5h.9M231 106h.9M234.5 99h.9M234.5 103.5h.9M254.5 107.5h.9M245.5 99h.9M239.5 125.5h.9M223 103.5h.9M230 121h.9M248 106h.9M243.5 105h.9M244.5 115h.9M225 99.5h.9M239 105.5h.9M238.5 121h.9M230.5 115.5h.9M224 108h.9M233 121.5h.9M231.5 111h.9M225 107.5h.9M235.5 119h.9M226 126h.9M239 108h.9M236 108h.9M235.5 93.5h.9M238 102h.9M235.5 92.5h.9M242.5 109h.9M242.5 88.5h.9M227 108h.9M239.5 126h.9M245 108.5h.9M237.5 91h.9M239 104.5h.9M228.5 127h.9M240 113.5h.9M229 96.5h.9M223 117.5h.9M240.5 90h.9M259 101.5h.9M244.5 117h.9M229 110h.9M235.5 122.5h.9M226.5 100.5h.9M229 102.5h.9M241.5 116h.9M251 93h.9M247 92h.9M228.5 124h.9M232.5 111h.9M253 117.5h.9M228 118.5h.9M226.5 128.5h.9M228.5 116.5h.9M252.5 102h.9M232 104h.9M236 99h.9M229.5 115.5h.9M236 121.5h.9M230.5 108.5h.9M238 94h.9M237 100h.9M254.5 103.5h.9M222 102.5h.9M234 93h.9M243 114.5h.9M246 110h.9M232 121.5h.9M233 114.5h.9M231 100h.9M235 110.5h.9M247.5 108h.9M247.5 111.5h.9M234 92.5h.9M244.5 104.5h.9M239 120.5h.9M237 107h.9M246 93.5h.9M245 116h.9M238 93.5h.9M243 81.5h.9M230.5 129h.9M243.5 96h.9M236 117.5h.9M233 103h.9M235.5 117h.9M249 109.5h.9M242.5 105.5h.9M239 101.5h.9M244.5 115.5h.9M236.5 130h.9M247.5 112.5h.9M246.5 119h.9M253.5 102.5h.9M248 107.5h.9M245.5 107.5h.9M226 98h.9M240.5 98.5h.9M222 99.5h.9M238.5 94.5h.9M231.5 94.5h.9M229 114h.9M227.5 110h.9M236 110.5h.9M228.5 108.5h.9M232 103.5h.9M242 109h.9M221.5 134.5h.9M234 118.5h.9M233.5 134.5h.9M248 94h.9M222 100h.9M238.5 98.5h.9M251.5 95h.9M235 116.5h.9M247 108.5h.9M247.5 120.5h.9M239 102.5h.9M246 101h.9M229 121h.9M241 115h.9M238.5 118h.9M243.5 104h.9M227.5 117h.9M231 109h.9M247.5 116.5h.9M229.5 106h.9M241.5 99.5h.9M252.5 99h.9M242 87h.9M240.5 92.5h.9M237 117.5h.9M249.5 91.5h.9M243.5 90h.9M229 109h.9M232 116h.9M220 121h.9M234.5 112h.9M246.5 105h.9M233.5 115.5h.9M226.5 110.5h.9M242.5 90h.9M254.5 116h.9M245 110h.9M246.5 124h.9M232.5 103h.9M237 96h.9M231.5 122h.9M238 107h.9M240 103h.9M241.5 110.5h.9M240.5 98h.9M243.5 114h.9M232.5 112.5h.9M241 116.5h.9M247 119h.9M228 107.5h.9M240 100.5h.9M246.5 118h.9M242.5 121h.9M234 114.5h.9M235.5 114.5h.9M221 112h.9M240.5 103h.9M249.5 99.5h.9M246 111h.9M242 115h.9M228 105h.9M239 115h.9M247.5 101.5h.9M230.5 103.5h.9M227.5 112.5h.9M248 101h.9M228 113.5h.9M238 121.5h.9M253 111.5h.9M239 108.5h.9M253.5 90h.9M253.5 98h.9M242 128.5h.9M256.5 85h.9M215.5 99.5h.9M240.5 101.5h.9M224 117.5h.9M238.5 120h.9M251.5 101h.9M232 118.5h.9M239 116.5h.9M230.5 111.5h.9M246.5 103h.9M235.5 116.5h.9M243.5 110.5h.9M228 103h.9M239 113h.9M234.5 118.5h.9M229.5 126h.9M235 128h.9M224 131h.9M246 113h.9M237 102.5h.9M246 97.5h.9M238.5 106h.9M235 110h.9M234.5 120.5h.9M238.5 107.5h.9M229.5 119.5h.9M249.5 118h.9M248.5 115.5h.9M230 115h.9M248.5 99.5h.9M236 100.5h.9M254 99h.9M221.5 97h.9M247.5 115.5h.9M225.5 86h.9M232 124h.9M226 110h.9M229.5 121.5h.9M229.5 108.5h.9M233.5 95.5h.9M227.5 126.5h.9M239.5 99h.9M240 128.5h.9M241.5 104.5h.9M230 115.5h.9M237 95.5h.9M232 106.5h.9M242.5 97h.9M236.5 120h.9M251 115h.9M240.5 102h.9M249.5 100.5h.9M227 101.5h.9M253 109h.9M234 116h.9M222 110.5h.9M233 97h.9M239 100.5h.9M249.5 128h.9M229 110.5h.9M245 103.5h.9M223.5 115.5h.9M249.5 89.5h.9M243.5 101h.9M241.5 106.5h.9M236 79h.9M242 102.5h.9M236.5 101h.9M234.5 88.5h.9M250 96.5h.9M252 94h.9M245.5 103h.9M240.5 113.5h.9M225.5 116h.9M239 98.5h.9M245.5 104.5h.9M237.5 107.5h.9M219.5 110.5h.9M239 112h.9M236.5 99h.9M230 114.5h.9M238 86h.9M226 113.5h.9M239 125h.9M238.5 99h.9M244.5 104h.9M243 96.5h.9M240 110.5h.9M236.5 82.5h.9M240 99.5h.9M237.5 110h.9M230.5 128h.9M230.5 111h.9M237.5 117.5h.9M233 113.5h.9M243.5 119.5h.9M227 92.5h.9M219.5 130h.9M240 95.5h.9M241 105.5h.9M229 104h.9M226 112.5h.9M226.5 98.5h.9M231 99h.9M228.5 120.5h.9M223 105.5h.9M242.5 96.5h.9M251.5 100.5h.9M240 105h.9M234.5 110h.9M228.5 112h.9M236.5 110h.9M232 112.5h.9M247 94h.9M241 108h.9M247 114h.9M237 93.5h.9M227 109.5h.9M251.5 93.5h.9M231 120.5h.9M249.5 98.5h.9M241.5 98h.9M230 108h.9M245 92.5h.9M231.5 104h.9M246 104h.9M241 103h.9M241.5 94h.9M240.5 102.5h.9M234.5 113.5h.9M237 102h.9M241 100h.9M249 114h.9M237 119h.9M215.5 128h.9M236.5 106.5h.9M240 113h.9M237.5 96.5h.9M241.5 114h.9M233 92h.9M236.5 120.5h.9M225.5 113h.9M234 111h.9M243.5 111h.9M235.5 102h.9M236 102h.9M248 109h.9M233.5 109h.9M227 116h.9M236.5 107h.9M237.5 101.5h.9M227.5 103h.9M240.5 105h.9M237.5 111h.9M229.5 129.5h.9M237 106h.9M248 110.5h.9M246.5 100.5h.9M227.5 107.5h.9M237.5 115h.9M254.5 111h.9M231.5 112.5h.9M234.5 101h.9M236 110h.9M237.5 92h.9M234.5 102h.9M239.5 116.5h.9M223 100h.9M241 108.5h.9M227 103h.9M253.5 89h.9M237.5 104.5h.9M222.5 114.5h.9M230 103.5h.9M239.5 110h.9M245.5 97h.9M238.5 118.5h.9M230 127.5h.9M239 97h.9M248.5 101.5h.9M228.5 109.5h.9M229 109.5h.9M235 106.5h.9M228.5 105h.9M221 104h.9M234 100h.9M233 105.5h.9M208.5 115.5h.9M221.5 99h.9M227 113h.9M225.5 119h.9M247 80h.9M252 110h.9M240.5 93h.9M236 107h.9M239.5 91.5h.9M246 104.5h.9M235 112h.9M240 96.5h.9M241 119h.9M241.5 93.5h.9M254 101.5h.9M243 98h.9M243 119.5h.9M232 96h.9M251 104.5h.9M220 109.5h.9M240.5 106h.9M269 98h.9M229 103.5h.9M234.5 108h.9M246 108h.9M235 93.5h.9M244 108h.9M234.5 115.5h.9M240.5 104h.9M242 108h.9M237.5 112.5h.9M240 100h.9M248 117h.9M241.5 111h.9M232.5 101.5h.9M239.5 110.5h.9M233.5 102h.9M241.5 107h.9M211.5 103.5h.9M240.5 117h.9M233 120h.9M231 111.5h.9M240.5 109h.9M237.5 95.5h.9M227.5 104.5h.9M227.5 102.5h.9M236 109.5h.9M234 99.5h.9M225.5 95h.9M246.5 111.5h.9M239 121h.9M228 108.5h.9M245.5 102h.9M224 126.5h.9M241 128h.9M239.5 95h.9M235.5 124h.9M234 112.5h.9M230 110.5h.9M217 124.5h.9M247 93h.9M226.5 118h.9M231 103.5h.9M251.5 110h.9M221.5 124h.9M245.5 101.5h.9M245.5 98.5h.9M224.5 113.5h.9M250.5 110h.9M251.5 106.5h.9M242 104h.9M237.5 103.5h.9M247 109h.9M240 96h.9M235.5 112h.9M239.5 101.5h.9M244 97h.9M251.5 86h.9M236 122.5h.9M230 113.5h.9M237 106.5h.9M260 83h.9M246 102.5h.9M220.5 103.5h.9M246 93h.9M240 102h.9M249.5 108h.9M238 86.5h.9M233.5 94.5h.9M239.5 103h.9M246 98h.9M237.5 123h.9M234 129h.9M248.5 114.5h.9M245.5 121h.9M224.5 98h.9M244 98.5h.9M233 111.5h.9M237.5 108.5h.9M237 124h.9M242.5 102h.9M245.5 93.5h.9M224 104.5h.9M241.5 128.5h.9M240.5 115.5h.9M228.5 120h.9M234 118h.9M239 91.5h.9M246.5 107.5h.9M242.5 112.5h.9M244 135.5h.9M234 110.5h.9M224 114h.9M229 101h.9M235 102h.9M239.5 92h.9M225 115.5h.9M243 108.5h.9M252 93.5h.9M233.5 114h.9M234 114h.9M242 101.5h.9M238 109h.9M236.5 102h.9M245.5 91.5h.9M229.5 115h.9M247 104h.9M237 110h.9M239 114.5h.9M228.5 123h.9M242 102h.9M229.5 118.5h.9M231 127.5h.9M245.5 112h.9M228.5 117.5h.9M232.5 108h.9M224.5 98.5h.9M244 100h.9M236 103.5h.9M239 98h.9M248 94.5h.9M245 112.5h.9M235 111.5h.9M224.5 92h.9M233 113h.9M214.5 117h.9M227 111.5h.9M231.5 104.5h.9M235 111h.9M233.5 116h.9M242.5 117h.9M230 118h.9M221.5 91.5h.9M226.5 109.5h.9M244.5 121h.9M249 100.5h.9M245 114.5h.9M252.5 113.5h.9M249.5 114h.9M232 123h.9M234 109.5h.9M228.5 115h.9M233.5 106h.9M238 108h.9M242 109.5h.9M238 106h.9M233 127.5h.9M241.5 100h.9M237.5 102.5h.9M245.5 94.5h.9M240 94.5h.9M235.5 124.5h.9M230 93.5h.9M240 99h.9M234 106h.9M232.5 125.5h.9M248 115.5h.9M226 116.5h.9M232.5 109.5h.9M256 103.5h.9M221.5 116h.9M224.5 106h.9M231.5 117h.9M230.5 114.5h.9M227 111h.9M226.5 123.5h.9M224.5 121h.9M236.5 105h.9M225 106h.9M226 100.5h.9M228.5 109h.9M226 124h.9M230 130h.9M253 95.5h.9M241.5 97.5h.9M253.5 87h.9M242.5 106.5h.9M232 113.5h.9M255 113.5h.9M250 111h.9M218.5 109.5h.9M228 106h.9M241 98.5h.9M246.5 116h.9M242 115.5h.9M236 93.5h.9M250.5 111h.9M234 91h.9M245 112h.9M243.5 93.5h.9M253 102h.9M235 115h.9M232 107h.9M234.5 96.5h.9M219 107.5h.9M229 117.5h.9M239 92h.9M229.5 116.5h.9M241 92.5h.9M241 122.5h.9M229 119h.9M242 97.5h.9M243.5 120h.9M243 106h.9M246 109.5h.9M237.5 111.5h.9M215.5 91.5h.9M236 105h.9M244.5 97.5h.9M243.5 95h.9M246 98.5h.9M237 100.5h.9M244.5 83.5h.9M237.5 99.5h.9M222 113.5h.9M247.5 99h.9M247 105h.9M223 117h.9M244.5 109.5h.9M231.5 102.5h.9M244.5 107.5h.9M238.5 115.5h.9M238 120h.9M227.5 107h.9M244.5 101h.9M242.5 104.5h.9M240 107h.9M232.5 115h.9M246.5 104h.9M234.5 114h.9M242 124h.9M224 109h.9M234 111.5h.9M249 111.5h.9M235.5 110.5h.9M238 118h.9M238.5 84.5h.9M239.5 130.5h.9M217.5 129.5h.9M233.5 110.5h.9M242 111h.9M230.5 108h.9M231.5 106.5h.9M250 95h.9M229.5 112h.9M237.5 121h.9M247 99h.9M230 109.5h.9M239 116h.9M228 94.5h.9M230.5 109h.9M243.5 92h.9M247 86.5h.9M211 110h.9M229 108.5h.9M233.5 101h.9M233.5 113.5h.9M232.5 96.5h.9M246.5 109h.9M246 99.5h.9M222.5 103.5h.9M236.5 134h.9M237.5 105.5h.9M231.5 114h.9M236 107.5h.9M250 117h.9M240 86h.9M235.5 113h.9M239 124h.9M222 122h.9M227.5 113h.9M235.5 104.5h.9M249.5 103.5h.9M229.5 92h.9M239.5 102h.9M240.5 124.5h.9M235.5 114h.9M228 113h.9M233.5 120h.9M233 104h.9M234 94h.9M220.5 115h.9M232 113h.9M234 113h.9M232.5 89.5h.9M221 120.5h.9M242 97h.9M236.5 108h.9M250.5 91.5h.9M243.5 109.5h.9M227 126.5h.9M228.5 110h.9M245 118.5h.9M246 92.5h.9M223 125.5h.9M251 111.5h.9M225 130.5h.9M236 111.5h.9M242.5 110h.9M233 104.5h.9M229 106h.9M236.5 109.5h.9M244 101.5h.9M242 108.5h.9M230 122.5h.9M229 112.5h.9M226.5 98h.9M230.5 102.5h.9M223 101.5h.9M242 101h.9M224.5 105h.9M255.5 114.5h.9M234 115.5h.9M245.5 81h.9M236 113.5h.9M241 116h.9M242 112.5h.9M262.5 102.5h.9M228 114h.9M232.5 97.5h.9M236.5 113h.9M230.5 118h.9M231 97h.9M241.5 134h.9M223 118h.9M242.5 95.5h.9M250.5 106h.9M234 107.5h.9M245 102h.9M238.5 93.5h.9M230.5 115h.9M242.5 92.5h.9M226.5 110h.9M235.5 117.5h.9M242 106h.9M233.5 125.5h.9M231.5 95.5h.9M230.5 97h.9M241.5 101h.9M222 104h.9M230.5 104h.9M245 105h.9M231.5 113h.9M230 125.5h.9M244.5 110.5h.9M226 118.5h.9M226.5 123h.9M228 115.5h.9M243.5 112h.9M217 120h.9M219.5 127.5h.9M242.5 122.5h.9M225 107h.9M240.5 116.5h.9M240.5 123.5h.9M248.5 103.5h.9M247 93.5h.9M231 92h.9M221.5 110.5h.9M241 102.5h.9M238 101.5h.9M251.5 103h.9M231 100.5h.9M236.5 116h.9M238.5 82.5h.9M245.5 110h.9M243 107.5h.9M226 106.5h.9M236 94h.9M252.5 102.5h.9M220 116.5h.9M242.5 128h.9M222.5 118.5h.9M230.5 117h.9M227 115h.9M234 112h.9M236.5 121h.9M250.5 94h.9M227.5 109h.9M219.5 120h.9M243 115h.9M232.5 116h.9M234.5 94h.9M232 115.5h.9M223 120h.9M234.5 97.5h.9M232.5 120.5h.9M239 106.5h.9M232.5 117h.9M227 121h.9M240.5 101h.9M239.5 98.5h.9M242 125.5h.9M235 96h.9M235.5 125.5h.9M238 109.5h.9M225.5 104h.9M233.5 86h.9M248.5 88.5h.9M229.5 107.5h.9M228 101.5h.9M238.5 126h.9M252.5 110.5h.9M227 97h.9M228.5 98.5h.9M233 119h.9M248 98h.9M235 112.5h.9M242 98h.9M238.5 106.5h.9M240.5 127.5h.9M224.5 119.5h.9M235 106h.9M249 97h.9M232.5 105.5h.9M234.5 89h.9M236.5 95.5h.9M249 79h.9M213 105.5h.9M246.5 112.5h.9M225.5 120h.9M244 102.5h.9M246.5 93.5h.9M247.5 114.5h.9M231 108.5h.9M229 102h.9M225 110h.9M222.5 122h.9M229 132.5h.9M225 113h.9M228.5 93h.9M229.5 110h.9M237 117h.9M248.5 99h.9M244 112.5h.9M234.5 94.5h.9M251.5 112.5h.9M248.5 78h.9M228.5 119h.9M248 102.5h.9M212 111.5h.9M236 114.5h.9M230.5 101h.9M231 108h.9M232.5 106.5h.9M241 112.5h.9M240 112.5h.9M247.5 97.5h.9M231.5 108h.9M219.5 95.5h.9M234 107h.9M252 90h.9M242 103.5h.9M240 115.5h.9M249 88h.9M233 98.5h.9M236.5 123h.9M235 94.5h.9M228.5 112.5h.9M226 97.5h.9M233.5 123h.9M220 112h.9M230.5 94h.9M226.5 128h.9M232.5 104h.9M224 88h.9M224.5 127h.9M240 109h.9M241.5 109.5h.9M236 118h.9M246 101.5h.9M233 101h.9M222.5 108.5h.9M232.5 104.5h.9M236 112.5h.9M244 113h.9M249 117h.9M243.5 102.5h.9M246.5 98.5h.9M228 111.5h.9M229.5 104h.9M237.5 101h.9M246 105h.9M214.5 113.5h.9M243 102h.9M239 96.5h.9M229 117h.9M244 91h.9M237 119.5h.9M245.5 91h.9M219.5 108h.9M231.5 109.5h.9M239.5 125h.9M248 101.5h.9M243.5 95.5h.9M243.5 115.5h.9M245.5 106h.9M247 99.5h.9M240.5 114h.9M235.5 106.5h.9M246 121.5h.9M253.5 110.5h.9M259 86h.9M254.5 108.5h.9M248.5 104.5h.9M235 95h.9M256.5 111.5h.9M236 95.5h.9M230 105h.9M235 104.5h.9M234.5 116h.9M243.5 116.5h.9M243 110.5h.9M243 106.5h.9M230.5 110.5h.9M236.5 89.5h.9M239.5 115h.9M226 118h.9M243 100h.9M240.5 99h.9M223.5 105h.9M236.5 97h.9M231.5 106h.9M229.5 108h.9M243.5 106h.9M243.5 111.5h.9M227.5 118.5h.9M234 97.5h.9M222 119.5h.9M245.5 97.5h.9M223.5 112.5h.9M251 108.5h.9M230 102.5h.9M256.5 105.5h.9M249 106h.9M249 107h.9M220.5 122h.9M232.5 102.5h.9M217.5 115h.9M237.5 93.5h.9M251.5 119h.9M238.5 108.5h.9M242 95.5h.9M251.5 104h.9M240 103.5h.9M245.5 90h.9M220.5 106.5h.9M230 118.5h.9M246 119h.9M247 106.5h.9M236.5 105.5h.9M236 128h.9M240 111.5h.9M221 108h.9M228.5 107h.9M235.5 105h.9M236.5 92.5h.9M253 98h.9M234 96.5h.9M222.5 118h.9M251 95h.9M235.5 108h.9M228 105.5h.9M261 96h.9M244.5 109h.9M233 118.5h.9M232 123.5h.9M228.5 118h.9M239.5 104.5h.9M238.5 113.5h.9M232.5 128h.9M249.5 116.5h.9M243.5 99h.9M249.5 113.5h.9M244 112h.9M223.5 120h.9M222.5 93h.9M249.5 104.5h.9M227.5 131.5h.9M242 96.5h.9M247.5 114h.9M244.5 102h.9M226.5 113.5h.9M223.5 101h.9M222 100.5h.9M250 111.5h.9M250 117.5h.9M241.5 98.5h.9M247 106h.9M221 92h.9M213.5 102h.9M250.5 88h.9M230 107h.9M238 116.5h.9M247.5 107.5h.9M237.5 102h.9M235.5 99.5h.9M246.5 125h.9M233.5 121.5h.9M231 113.5h.9M232 99h.9M227.5 119h.9M236.5 99.5h.9M222 115h.9M249.5 110.5h.9M231.5 112h.9M234.5 112.5h.9M228 116h.9M241.5 106h.9M218.5 105.5h.9M233.5 98.5h.9M239 119h.9M239 95h.9M239.5 118h.9M241 117.5h.9M231.5 116h.9M238 114h.9M253.5 107h.9M248 104h.9M239 107h.9M237.5 99h.9M244.5 108.5h.9M234.5 115h.9M247 117h.9M248 92h.9M249.5 97h.9M240 122.5h.9M250 91h.9M246.5 112h.9M233.5 121h.9M227 114.5h.9M248 124h.9M234.5 130h.9M224.5 118.5h.9M243 99h.9M231 134.5h.9M225.5 90.5h.9M232 120h.9M230.5 105h.9M234 136.5h.9M252 110.5h.9M228 111h.9M232.5 100h.9M219.5 111h.9M226 125.5h.9M241.5 95h.9M220 101.5h.9M241.5 125.5h.9M252 105h.9M237 123h.9M219.5 117h.9M218.5 125h.9M250.5 102h.9M234 113.5h.9M223.5 120.5h.9M236 101h.9M245.5 98h.9M241.5 96h.9M240 127.5h.9M241.5 123.5h.9M247.5 111h.9M227 105h.9M239 102h.9M234 96h.9M242.5 97.5h.9M248 93.5h.9M223.5 95.5h.9M236.5 106h.9M264.5 103h.9M246 94.5h.9M239.5 100h.9M217.5 112.5h.9M239 110.5h.9M230 95h.9M241 95h.9M233.5 115h.9M229 122.5h.9M216.5 123.5h.9M253 111h.9M241 86.5h.9M233 123h.9M235 98h.9M255.5 116h.9M227.5 108.5h.9M231 122.5h.9M231.5 119.5h.9M229 127.5h.9M229 106.5h.9M256 113.5h.9M232 105h.9M250 107h.9M243.5 113h.9M229.5 99.5h.9M240 95h.9M226 107.5h.9M228 117.5h.9M237 129.5h.9M240.5 95h.9M231.5 110h.9M247 118h.9M251.5 105h.9M234.5 98.5h.9M242.5 114h.9M231.5 107h.9M235.5 99h.9M236 132h.9M242 112h.9M232 109h.9M235.5 115h.9M218 112h.9M238 100.5h.9M230.5 99.5h.9M242.5 93h.9M245.5 85h.9M249 110.5h.9M246 108.5h.9M232 101h.9M250 85h.9M246 110.5h.9M242 116.5h.9M227 123h.9M222.5 112.5h.9M220 102.5h.9M224 119h.9M248.5 113.5h.9M249.5 94h.9M245.5 99.5h.9M233.5 112.5h.9M236.5 104.5h.9M234.5 119h.9M239.5 111.5h.9M246.5 113.5h.9M263.5 101h.9M230.5 102h.9M252 96h.9M254.5 99h.9M236.5 84h.9M255 117h.9M221 134h.9M228 101h.9M230 117h.9M228 115h.9M237.5 115.5h.9M232 93.5h.9M238 122.5h.9M250 108h.9M240.5 109.5h.9M227 117.5h.9M229.5 94.5h.9M236.5 118h.9M245 100.5h.9M231 125h.9M250.5 114h.9M231.5 118h.9M233 108.5h.9M233.5 113h.9M242 92.5h.9M229.5 90.5h.9M257.5 118.5h.9M223.5 114.5h.9M232 107.5h.9M228.5 106h.9M234.5 100h.9M244.5 114.5h.9M240.5 106.5h.9M226.5 125h.9M243 107h.9M237.5 128.5h.9M242.5 112h.9M235 113h.9M237.5 116.5h.9M240 135h.9M245 94h.9M214 123.5h.9M222 106.5h.9M251.5 99h.9M243 93h.9M226.5 112.5h.9M243 111.5h.9M226.5 120.5h.9M216.5 98.5h.9M243.5 108h.9M251.5 103.5h.9M256 97h.9M233 99.5h.9M233.5 94h.9M246 107.5h.9M243.5 117h.9M239.5 106h.9M224.5 117h.9M240 108.5h.9M240 118h.9M238 110.5h.9M258 91.5h.9M221.5 129h.9M256 100.5h.9M232 114.5h.9M225 114.5h.9M229 111.5h.9M249 110h.9M238.5 104h.9M219 122.5h.9M223.5 113.5h.9M209 129h.9M252 120.5h.9M247.5 107h.9M226.5 104.5h.9M229 108h.9M217.5 105h.9M232 111h.9M222.5 131.5h.9M232.5 105h.9M235 99.5h.9M233 103.5h.9M242 117h.9M249.5 107h.9M231 107.5h.9M241 98h.9M240 117h.9M226.5 129.5h.9M226 108.5h.9M239 122h.9M241.5 92h.9M235 101.5h.9M244 128.5h.9M249.5 103h.9M247 85h.9M225.5 115.5h.9M234 101.5h.9M245.5 111h.9M209 131h.9M242.5 99h.9M229.5 98.5h.9M227 107.5h.9M247 100.5h.9M237.5 122h.9M233 111h.9M245.5 96h.9M245.5 100.5h.9M228.5 97h.9M232.5 124.5h.9M251.5 108h.9M252 93h.9M236.5 85h.9M232 94h.9M236 103h.9M245.5 84h.9M240 101h.9M243 94.5h.9M249.5 96h.9M221 109.5h.9M227.5 115h.9M236.5 103h.9M217.5 110h.9M243 88h.9M235 103.5h.9M245.5 126.5h.9M223 103h.9M227 113.5h.9M240.5 112h.9M247 120.5h.9M247.5 77.5h.9M245.5 105h.9M233 112h.9M214.5 113h.9M230.5 121.5h.9M244.5 111.5h.9M247.5 103.5h.9M231.5 103h.9M224 106h.9M241 97.5h.9M251 102.5h.9M233 109h.9M246 96h.9M241.5 103h.9M237 98.5h.9M242 95h.9M253.5 111.5h.9M254.5 90h.9M231.5 101h.9M226.5 120h.9M234.5 98h.9M218 127.5h.9M253.5 90.5h.9M230.5 97.5h.9M233.5 93h.9M252.5 95h.9M252.5 101h.9M248 112.5h.9M241.5 99h.9M224 110.5h.9M221 101h.9M225.5 102h.9M226.5 115.5h.9M247 102h.9M228 112h.9M237.5 104h.9M246.5 93h.9M246 120.5h.9M256.5 94.5h.9M235.5 105.5h.9M230.5 113.5h.9M247 101h.9M252 104.5h.9M227.5 130.5h.9M242.5 95h.9M248 123.5h.9M245 123h.9M224.5 117.5h.9M230.5 119h.9M232.5 127.5h.9M232.5 88h.9M219 121h.9M250.5 105h.9M255 105h.9M219.5 124h.9M225.5 107.5h.9M225.5 93.5h.9M229 112h.9M247 100h.9M240 114h.9M243.5 112.5h.9M222.5 105h.9M244 106.5h.9M243.5 97h.9M233.5 99h.9M225 109.5h.9M220 111h.9M228 117h.9M231.5 115.5h.9M216.5 109.5h.9M229 113h.9M235.5 106h.9M226.5 104h.9M235.5 111.5h.9M244 111h.9M257 107h.9M233 99h.9M240 124.5h.9M250.5 109.5h.9M227.5 124h.9M235 104h.9M241.5 90.5h.9M239.5 103.5h.9M230 91.5h.9M245 120.5h.9M247.5 89h.9M225 111h.9M245 95.5h.9M238 128.5h.9M226.5 116.5h.9M243.5 121h.9M227.5 110.5h.9M236 104.5h.9M247 97h.9M240 110h.9M249 105h.9M247.5 84h.9M219 130.5h.9M242 107h.9M252 95.5h.9M231 98h.9M241 121h.9M230 110h.9M211.5 121.5h.9M233.5 126h.9M258.5 103.5h.9M224.5 115.5h.9M255 97.5h.9M220 125h.9M251.5 111.5h.9M246 117h.9M242.5 116h.9M247.5 113.5h.9M237.5 103h.9M246 103.5h.9M230 111.5h.9M228.5 115.5h.9M233 129h.9M230.5 93.5h.9M226.5 111h.9M229.5 119h.9M224 116.5h.9M228.5 108h.9M231 116h.9M238.5 103h.9M237.5 117h.9M244.5 98.5h.9M259 95h.9M230 128h.9M239.5 101h.9M237 118h.9M248 108.5h.9M233 108h.9M238 98.5h.9M232 108h.9M225 128h.9M242.5 110.5h.9M229.5 121h.9M224 101.5h.9M245 101.5h.9M230 107.5h.9M235.5 98h.9M239 100h.9M228.5 116h.9M235.5 126h.9M249 101.5h.9M253.5 102h.9M229 107.5h.9M251 101h.9M226.5 108.5h.9M219 111.5h.9M225 115h.9M245 96h.9M247.5 101h.9M241.5 120h.9M252.5 105h.9M220.5 109.5h.9M236.5 133.5h.9M244.5 100h.9M243 96h.9M241 100.5h.9M244.5 101.5h.9M236 120.5h.9M242.5 115.5h.9M245 107h.9M223 113h.9M232 99.5h.9M226 115.5h.9M224 111.5h.9M245.5 96.5h.9M241.5 115.5h.9M244 106h.9M224 123h.9M237 103h.9M242.5 93.5h.9M235.5 113.5h.9M252 95h.9M243.5 107h.9M238 123h.9M240 105.5h.9M221 116.5h.9M238.5 90h.9M235.5 109h.9M242 92h.9M223.5 139.5h.9M242 110h.9M242.5 100h.9M222 109.5h.9M242 114.5h.9M228 100.5h.9M216.5 117.5h.9M246.5 97.5h.9M256.5 104h.9M236.5 90.5h.9M236.5 117h.9M223 116.5h.9M230.5 126h.9M213 114.5h.9M251.5 95.5h.9M217.5 98h.9M218.5 111h.9M227.5 118h.9M235.5 122h.9M240.5 100h.9M236.5 115.5h.9M236.5 125.5h.9M242 98.5h.9M244 105h.9M244 96h.9M234 102h.9M244.5 122.5h.9M246 115h.9M227 103.5h.9M245 114h.9M221 124.5h.9M232 122.5h.9M218.5 107.5h.9M230.5 112.5h.9M241 94h.9M225.5 106h.9M245 110.5h.9M228 95.5h.9M231.5 124h.9M221.5 126.5h.9M236.5 108.5h.9M222 101.5h.9M236 100h.9M232.5 125h.9M241.5 118.5h.9M239 111h.9M242 122.5h.9M245 120h.9M249 119h.9M250 100.5h.9M244.5 102.5h.9M250 115.5h.9M227 122.5h.9M247 115.5h.9M238.5 98h.9M245 93.5h.9M230.5 116h.9M229 105.5h.9M223.5 121.5h.9M238 117h.9M214 114h.9M233.5 111.5h.9M224.5 126h.9M222 123.5h.9M241.5 117.5h.9M237.5 94h.9M233.5 122.5h.9M247.5 96.5h.9M253 113h.9M252 101.5h.9M238.5 117h.9M234.5 122h.9M232.5 87.5h.9M246 97h.9M249.5 101.5h.9M239.5 115.5h.9M241.5 121.5h.9M246.5 107h.9M224.5 99.5h.9M246 82.5h.9M246 99h.9M248.5 110h.9M231 112.5h.9M223.5 99h.9M241 87h.9M228.5 113h.9M223 107.5h.9M247.5 104.5h.9M242.5 101h.9M232.5 121.5h.9M229 118.5h.9M243 105h.9M228 102h.9M234.5 114.5h.9M237 91h.9M256.5 115.5h.9M233.5 109.5h.9M215 103.5h.9M237.5 106h.9M237.5 93h.9M240.5 119h.9M236 117h.9M241.5 118h.9M233.5 104.5h.9M250.5 103.5h.9M224.5 102.5h.9M253 92h.9M243 111h.9M237.5 98h.9M242 127h.9M256 106.5h.9M228.5 119.5h.9M240.5 119.5h.9M222 87h.9M247.5 113h.9M236 96h.9M250.5 107.5h.9M221 109h.9M229 121.5h.9M233 97.5h.9M224.5 106.5h.9M238.5 96.5h.9M243.5 93h.9M241 114.5h.9M248 120.5h.9M232 102h.9M229.5 125h.9M242 103h.9M228.5 102h.9M261 102.5h.9M229 99h.9M231.5 113.5h.9M229.5 99h.9M219.5 119h.9M233.5 125h.9M239.5 116h.9M244.5 118h.9M237 111.5h.9M221.5 101.5h.9M222.5 109h.9M230 129h.9M245.5 104h.9M239.5 123h.9M241.5 119h.9M242 127.5h.9M233.5 131h.9M233.5 127h.9M251 105.5h.9M239.5 97h.9M267 68h.9M244.5 99.5h.9M247 87.5h.9M252 85h.9M248 84.5h.9M248.5 100h.9M236.5 89h.9M241 94.5h.9M251.5 96h.9M253.5 84h.9M249.5 86.5h.9M248.5 94h.9M255 96h.9M245 93h.9M248.5 85h.9M248 85.5h.9M257 79h.9M220.5 116h.9M252.5 104h.9M239.5 74.5h.9M239 94.5h.9M245.5 83.5h.9M262.5 88h.9M229.5 107h.9M248.5 89h.9M260.5 101h.9M241 80.5h.9M236 115.5h.9M218.5 99h.9M214.5 130h.9M219 99.5h.9M243.5 72.5h.9M248 103.5h.9M225.5 115h.9M255 101h.9M257.5 94h.9M240.5 90.5h.9M256.5 93.5h.9M241.5 95.5h.9M262 86h.9M217.5 93h.9M248 92.5h.9M237 97.5h.9M241 85.5h.9M255 98h.9M243 97.5h.9M252.5 78.5h.9M231 84h.9M261 89h.9M246.5 95h.9M258 98.5h.9M238.5 89.5h.9M240 83h.9M234 95h.9M242.5 90.5h.9M263 86.5h.9M231 95.5h.9M221.5 102h.9M236 88.5h.9M247.5 94.5h.9M231.5 86h.9M231 106.5h.9M245 90.5h.9M247 77h.9M260.5 79.5h.9M260 90.5h.9M236 87.5h.9M259.5 77.5h.9M246.5 89.5h.9M246.5 86h.9M236.5 97.5h.9M229.5 104.5h.9M255.5 101.5h.9M256.5 94h.9M216 106h.9M254.5 88.5h.9M240.5 94.5h.9M234 101h.9M249.5 86h.9M263 91.5h.9M226.5 90h.9M232 98.5h.9M237.5 82.5h.9M249.5 87h.9M249 98.5h.9M252.5 96.5h.9M262.5 84.5h.9M250 84h.9M230.5 99h.9M248.5 81h.9M235.5 121.5h.9M251 88.5h.9M244 100.5h.9M257 96h.9M251 97h.9M259 80.5h.9M250 105.5h.9M267.5 71h.9M244.5 121.5h.9M236.5 114h.9M242.5 86h.9M237 113.5h.9M248.5 90.5h.9M221 107h.9M254.5 91h.9M229.5 102h.9M252 87.5h.9M268 76h.9M240.5 96h.9M259.5 90h.9M243 102.5h.9M246.5 114.5h.9M251 85.5h.9M256.5 100h.9M236 88h.9M246.5 87.5h.9M242 75h.9M226.5 119.5h.9M222 105.5h.9M252.5 90.5h.9M249 81h.9M238.5 95.5h.9M233.5 85h.9M239 83.5h.9M239.5 92.5h.9M247.5 91.5h.9M248.5 106h.9M234 89h.9M260 82h.9M238.5 97.5h.9M217 120.5h.9M261 88h.9M268 95.5h.9M255 95h.9M249.5 98h.9M250 90h.9M243.5 98.5h.9M238 88.5h.9M251.5 91.5h.9M231 112h.9M267 95h.9M218 122.5h.9M229.5 93.5h.9M241.5 105h.9M244.5 85.5h.9M243 95h.9M253 78h.9M254.5 83h.9M254 68.5h.9M228.5 92h.9M261.5 84.5h.9M254 83h.9M234.5 97h.9M265.5 85.5h.9M251.5 91h.9M245.5 77.5h.9M248 83.5h.9M236.5 100.5h.9M217 109h.9M218.5 110h.9M244 89h.9M243.5 103h.9M250 94h.9M251.5 89.5h.9M260.5 100h.9M246.5 78h.9M256 81.5h.9M237 90h.9M254 92h.9M250 95.5h.9M224.5 105.5h.9M252 85.5h.9M260.5 85.5h.9M244 93.5h.9M231.5 89.5h.9M249 83.5h.9M230 126.5h.9M231 101.5h.9M243 113h.9M252.5 117.5h.9M247.5 78h.9M239.5 91h.9M243.5 98h.9M244.5 105.5h.9M244.5 87.5h.9M246.5 94.5h.9M247.5 100h.9M230.5 104.5h.9M262 91h.9M239.5 83.5h.9M258 76.5h.9M237.5 83h.9M244.5 82.5h.9M248.5 98.5h.9M251 85h.9M253 91.5h.9M247 107.5h.9M249.5 90h.9M249 102h.9M230 113h.9M254.5 98.5h.9M259.5 96h.9M245.5 112.5h.9M249 84h.9M244 125h.9M247.5 90.5h.9M250.5 77h.9M249.5 87.5h.9M258 88.5h.9M242 96h.9M253 84h.9M226 122.5h.9M248 97.5h.9M257 63h.9M246.5 90h.9M245.5 124.5h.9M261 78.5h.9M260.5 83h.9M223 97.5h.9M243.5 79.5h.9M246.5 80.5h.9M248.5 101h.9M246 85.5h.9M236 93h.9M258 90.5h.9M253.5 106.5h.9M245 90h.9M242.5 83h.9M219.5 99h.9M240 102.5h.9M246.5 94h.9M238.5 86.5h.9M246.5 98h.9M246.5 96h.9M241.5 87h.9M244.5 118.5h.9M252.5 98.5h.9M236 99.5h.9M248 87h.9M244.5 91.5h.9M237.5 91.5h.9M229.5 102.5h.9M257 89.5h.9M239 92.5h.9M227 95h.9M252 116h.9M225 117.5h.9M259.5 90.5h.9M257.5 59.5h.9M249.5 80h.9M264 78.5h.9M237 86.5h.9M235 100h.9M244 109h.9M230.5 89.5h.9M258.5 93h.9M260.5 72h.9M235 89h.9M254 94.5h.9M247.5 106.5h.9M239 99.5h.9M249.5 91h.9M249.5 106h.9M244.5 100.5h.9M236 106h.9M243.5 79h.9M244.5 116h.9M252 79h.9M241 91.5h.9M254.5 76.5h.9M235.5 94.5h.9M249 90h.9M245 98h.9M226.5 99h.9M251 87h.9M249.5 89h.9M246.5 88h.9M240.5 86.5h.9M254.5 79h.9M245 102.5h.9M245.5 85.5h.9M242 85h.9M228.5 104h.9M252.5 75h.9M264 89h.9M259 82.5h.9M245 79h.9M240 118.5h.9M250 98h.9M244.5 88.5h.9M225.5 99.5h.9M252 84.5h.9M247 88h.9M251.5 96.5h.9M244 86h.9M258 92.5h.9M255 104h.9M250.5 83.5h.9M259 98.5h.9M265.5 81h.9M257.5 83h.9M249 97.5h.9M226.5 96.5h.9M248 88.5h.9M251.5 74h.9M252 107.5h.9M247.5 96h.9M266 78.5h.9M243 83.5h.9M241.5 101.5h.9M251.5 107h.9M256.5 70.5h.9M254.5 93.5h.9M243.5 91h.9M252.5 91h.9M252 102.5h.9M245 101h.9M252 68.5h.9M238 90h.9M249.5 100h.9M236.5 92h.9M249 87h.9M228 126h.9M246.5 96.5h.9M252 86h.9M241 110.5h.9M264.5 90.5h.9M251 96h.9M243.5 82h.9M249.5 95h.9M245 88.5h.9M241 107h.9M233.5 91h.9M247 79h.9M258.5 87.5h.9M243 83h.9M246.5 92h.9M227.5 100.5h.9M249 103.5h.9M240 90h.9M254.5 96h.9M249 89.5h.9M254 83.5h.9M241 120.5h.9M249.5 88.5h.9M234.5 83.5h.9M233.5 114.5h.9M243 89h.9M247 98h.9M263 104h.9M235 95.5h.9M243.5 87.5h.9M249.5 82.5h.9M237.5 98.5h.9M232 117.5h.9M221.5 107h.9M230 105.5h.9M217 126h.9M235.5 68.5h.9M241 109h.9M265 85.5h.9M241 111h.9M220.5 132.5h.9M217.5 134.5h.9M218 134.5h.9M219 134.5h.9M223 138h.9M219 132.5h.9M222.5 132h.9M223.5 132.5h.9M222 135h.9M219.5 129.5h.9M223 131h.9M223.5 131h.9M223 125h.9M216.5 129.5h.9M220 132h.9M217 134h.9M222.5 126.5h.9M220.5 133h.9M223 135h.9M220.5 131h.9M221 129h.9M219.5 136.5h.9M223.5 126h.9M219 136h.9M221.5 135.5h.9M217 132h.9M218 133h.9M224.5 124.5h.9M219.5 134.5h.9M224.5 135h.9M222 134.5h.9M223.5 136h.9M224 133h.9M216 138h.9M215.5 134h.9M219.5 132.5h.9M221 133.5h.9M222.5 137.5h.9M216 132h.9M220 135.5h.9M224 135.5h.9M219 133h.9M219 139h.9M220 134h.9M222.5 129h.9M221 135h.9M218 134h.9M219.5 133.5h.9M219.5 126.5h.9M222 137.5h.9M216 136h.9M221 139.5h.9M217.5 138.5h.9M217 135.5h.9M223 133h.9M221 132.5h.9M218 131.5h.9M217.5 137.5h.9M220 131h.9M218.5 131.5h.9M218 135h.9M220.5 128.5h.9M217 131.5h.9M216.5 134h.9M224 130h.9M224 132.5h.9M223 131.5h.9M218 128h.9M217.5 137h.9M224.5 128h.9M221.5 138h.9M218 138.5h.9M224.5 130h.9M224.5 132.5h.9M220.5 130h.9M221.5 129.5h.9M229.5 127.5h.9M220.5 134.5h.9M222.5 130h.9M223 128h.9M223.5 126.5h.9M218 136.5h.9M226 131.5h.9M219.5 131h.9M219 137.5h.9M217.5 135.5h.9M218.5 135h.9M221.5 132.5h.9M221 134.5h.9M217.5 130h.9M215 128h.9M213 131.5h.9M216 138.5h.9M220.5 135h.9M214.5 138.5h.9M220.5 134h.9M222.5 131h.9M216 135.5h.9M222 135.5h.9M215.5 132.5h.9M214 137h.9M217.5 133h.9M220.5 140.5h.9M224 130.5h.9M217 130h.9M223 129.5h.9M218.5 133.5h.9M217.5 132h.9M221.5 134h.9M227 130h.9M218 137.5h.9M214.5 138h.9M221 128.5h.9M226 133h.9M224 134h.9M224 137h.9M224 133.5h.9M220 134.5h.9M222 134h.9M220 135h.9M217.5 133.5h.9M219.5 129h.9M222 129.5h.9M223 134.5h.9M215.5 135.5h.9M222 132h.9M224 129.5h.9M224 127.5h.9M221.5 130h.9M220.5 128h.9M220.5 129h.9M227.5 137h.9M218 128.5h.9M216.5 132.5h.9M220 133h.9M220 137h.9M221 130.5h.9M224.5 129h.9M225 134.5h.9M225 132.5h.9M218.5 127.5h.9M223 130.5h.9M216.5 134.5h.9M217.5 135h.9M217.5 138h.9M216.5 131.5h.9M215.5 136.5h.9M220 129h.9M225 131.5h.9M226 129.5h.9M225 133h.9M222.5 130.5h.9M219 134h.9M220 131.5h.9M217 130.5h.9M221 133h.9M224 129h.9M216.5 126h.9M224.5 126.5h.9M223 127.5h.9M218.5 135.5h.9M224.5 128.5h.9M220.5 131.5h.9M221.5 133.5h.9M218.5 131h.9M215.5 134.5h.9M219 131h.9M221 126h.9M222.5 128h.9M218 132.5h.9M221 140h.9M218.5 124.5h.9M220 136.5h.9M222.5 133.5h.9M222.5 134.5h.9M220.5 129.5h.9M225.5 132h.9M221 135.5h.9M221 131.5h.9M217.5 136h.9M218 136h.9M222 133h.9M225 133.5h.9M226.5 126.5h.9M215 135.5h.9M223.5 127.5h.9M222.5 129.5h.9M216 132.5h.9M214.5 136h.9M219 126.5h.9M213 138h.9M220.5 133.5h.9M219 126h.9M221.5 135h.9M225 131h.9M223 137h.9M219 131.5h.9M215.5 130.5h.9M215.5 133h.9M221.5 128.5h.9M220.5 136h.9M228 126.5h.9M219.5 140.5h.9M213 141h.9M223.5 133h.9M215 130.5h.9M223 130h.9M216 131h.9M224.5 137h.9M214.5 136.5h.9M223 128.5h.9M225 132h.9M222.5 135h.9M223 134h.9M218 127h.9M218 129.5h.9M221.5 131.5h.9M221 131h.9M215 129.5h.9M219.5 128.5h.9M216 134h.9M217 127.5h.9M214 134.5h.9M224.5 129.5h.9M221 128h.9M219.5 135.5h.9M224 127h.9M218.5 130h.9M223 133.5h.9M223.5 132h.9M215 136.5h.9M215.5 143h.9M223.5 134h.9M225.5 131.5h.9M220.5 125h.9M219 135.5h.9M215.5 135h.9M221 129.5h.9M220 130.5h.9M224.5 134.5h.9M213.5 134h.9M221 130h.9M217.5 131.5h.9M221 136.5h.9M217.5 128h.9M222.5 128.5h.9M218 135.5h.9M221 126.5h.9M213.5 140.5h.9M218 125.5h.9M218 131h.9M217 132.5h.9M219.5 133h.9M226 136h.9M220 132.5h.9M222.5 138h.9M218.5 129h.9M217 133h.9M219.5 132h.9M217 133.5h.9M217.5 141h.9M217.5 134h.9M216.5 139.5h.9M215.5 138.5h.9M217.5 136.5h.9M217 137.5h.9M220 127.5h.9M222 138h.9M224.5 130.5h.9M214.5 139h.9M217 134.5h.9M221.5 125.5h.9M218.5 132h.9M223.5 135.5h.9M224 135h.9M220.5 127h.9M226 133.5h.9M215 136h.9M222.5 134h.9M217.5 128.5h.9M222 136.5h.9M219 125h.9M217 128.5h.9M218.5 134.5h.9M218.5 130.5h.9M215.5 133.5h.9M216.5 136.5h.9M219 136.5h.9M222.5 133h.9M216.5 137.5h.9M214 132.5h.9M218.5 138.5h.9M219 137h.9M219 138h.9M223.5 131.5h.9M225 135.5h.9M214 135.5h.9M221.5 127.5h.9M219.5 134h.9M221.5 127h.9M215.5 137.5h.9M219.5 136h.9M222.5 135.5h.9M216 131.5h.9M222 126.5h.9M219 141h.9M214.5 134.5h.9M223.5 128.5h.9M223.5 130h.9M216.5 130h.9M217.5 132.5h.9M218.5 129.5h.9M220.5 132h.9M223.5 138h.9M220.5 140h.9M221.5 131h.9M216.5 131h.9M214 136h.9M224 132h.9M213 132h.9M218.5 139.5h.9M224 131.5h.9M215.5 138h.9M216.5 128.5h.9M222 131.5h.9M224.5 141h.9M218.5 136h.9M216 133.5h.9M223.5 129.5h.9M224 138h.9M218.5 134h.9M220 130h.9M220 127h.9M222 131h.9M222 130.5h.9M214.5 129h.9M220 133.5h.9M216.5 132h.9M220.5 127.5h.9M218.5 128h.9M220.5 130.5h.9M215 134.5h.9M225.5 129h.9M223 129h.9M218 130.5h.9M221.5 133h.9M219.5 138h.9M215.5 136h.9M222 136h.9M226 128.5h.9M225.5 130h.9M220.5 137.5h.9M224.5 132h.9M216.5 129h.9M219 138.5h.9M220 128h.9M224 128.5h.9M212.5 132.5h.9M220 139h.9M218 139.5h.9M219 133.5h.9M225 138h.9M224.5 136h.9M225.5 132.5h.9M217 137h.9M218 129h.9M221.5 130.5h.9M218 130h.9M222 132.5h.9M222 133.5h.9M222 129h.9M218 141.5h.9M218.5 138h.9M218 126h.9M226 130.5h.9M217 136h.9M223 126h.9M223 127h.9M216 140.5h.9M217 138h.9M222 127h.9M217.5 127h.9M225 123h.9M220 136h.9M212 133h.9M219.5 128h.9M219.5 137.5h.9M221 137h.9M216.5 136h.9M217.5 139h.9M224 124.5h.9M218 132h.9M215 132.5h.9M225 137.5h.9M218.5 132.5h.9M223 132h.9M221.5 137h.9M225.5 131h.9M220 137.5h.9M214 129h.9M220.5 135.5h.9M227.5 132.5h.9M225 134h.9M220 129.5h.9M226 124.5h.9M222.5 126h.9M224.5 134h.9M224 125h.9M222 128h.9M219.5 135h.9M223.5 129h.9M217.5 129h.9M218.5 137.5h.9M220 138.5h.9M221 136h.9M219.5 130.5h.9M214.5 133h.9M216.5 135.5h.9M221.5 132h.9M220 141h.9M220 124h.9M226 128h.9M221.5 128h.9M225 128.5h.9M217 143h.9M217 129h.9M221.5 136.5h.9M221 125h.9M217 131h.9M221 138.5h.9M227 132h.9M218.5 136.5h.9M213 133h.9M224.5 131h.9M219.5 138.5h.9M217 138.5h.9M219 130h.9M225.5 134h.9M225.5 128h.9M223 135.5h.9M216 128h.9M222 125.5h.9M223 140h.9M214 139h.9M218 126.5h.9M211.5 137.5h.9M221.5 137.5h.9M225.5 123.5h.9M219.5 139.5h.9M215.5 131.5h.9M222.5 136.5h.9M224 142.5h.9M222.5 132.5h.9M223.5 140.5h.9M216 133h.9M221 139h.9M218 143h.9M223 132.5h.9M223.5 135h.9M220 139.5h.9M218 133.5h.9M217.5 131h.9M218.5 126h.9M212.5 135.5h.9M219.5 131.5h.9M222 126h.9M222.5 138.5h.9M223.5 125.5h.9M220.5 126.5h.9M232.5 141h.9M236.5 137.5h.9M239.5 143h.9M231 128h.9M232 138h.9M235.5 131.5h.9M214.5 145h.9M213.5 143.5h.9M216 145h.9M227 139.5h.9M214 125.5h.9M225 144.5h.9M228.5 150h.9M232 156h.9M233.5 141h.9M227.5 155h.9M233 129.5h.9M229.5 132.5h.9M239.5 150.5h.9M238.5 156.5h.9M233.5 146h.9M229 143h.9M228.5 155.5h.9M206.5 151h.9M224.5 141.5h.9M241.5 154.5h.9M228.5 134.5h.9M232 149h.9M237.5 141.5h.9M242.5 128.5h.9M206.5 144.5h.9M240.5 127h.9M229.5 144.5h.9M226.5 150.5h.9M238 140h.9M237.5 145h.9M243.5 137.5h.9M219 128h.9M227.5 145.5h.9M230 143h.9M221.5 139.5h.9M240.5 144h.9M245 133.5h.9M223 155h.9M221 148.5h.9M214 133h.9M245 141.5h.9M229 138h.9M226 131h.9M227 144h.9M240.5 143.5h.9M226.5 149.5h.9M238 141.5h.9M252 142h.9M235 138h.9M231.5 138h.9M204.5 147h.9M242 151h.9M236.5 153h.9M234 139.5h.9M222 152.5h.9M234 147h.9M244 139.5h.9M224.5 140.5h.9M216.5 153h.9M232 129h.9M220 147.5h.9M214.5 152.5h.9M222.5 150h.9M244 136.5h.9M224.5 140h.9M244.5 143h.9M223.5 141h.9M219.5 142.5h.9M225.5 146.5h.9M238.5 145h.9M216 154.5h.9M220 140h.9M231.5 146.5h.9M225 140.5h.9M228 149h.9M232 141h.9M244.5 147.5h.9M234.5 139h.9M226.5 126h.9M230.5 151h.9M230 141h.9M227.5 138.5h.9M228 136.5h.9M230 123.5h.9M232.5 140h.9M223.5 147.5h.9M224 144.5h.9M225.5 135h.9M240.5 129.5h.9M222.5 140.5h.9M236 154h.9M235 139h.9M238.5 128h.9M236 137h.9M233.5 139h.9M239.5 146h.9M244.5 134h.9M229.5 146.5h.9M216.5 148.5h.9M237.5 140h.9M231 142h.9M240 131.5h.9M221.5 136h.9M231.5 139h.9M234 137h.9M239 143h.9M230 131.5h.9M232 143h.9M221 122h.9M234 143.5h.9M231 141h.9M227 151.5h.9M228.5 146h.9M242 134.5h.9M218 152h.9M234.5 139.5h.9M225.5 138h.9M220 144.5h.9M235 138.5h.9M240.5 131h.9M229 139h.9M231.5 136.5h.9M239.5 152h.9M240 127h.9M232 136.5h.9M232 141.5h.9M234 135.5h.9M225 149.5h.9M236 140.5h.9M232 150h.9M233.5 143h.9M232 137.5h.9M227 138h.9M215.5 120h.9M235.5 144h.9M230.5 144.5h.9M234 138h.9M229.5 137h.9M218.5 154h.9M227.5 135h.9M220 123.5h.9M233.5 150h.9M239.5 139.5h.9M244.5 132h.9M228.5 142h.9M213 124.5h.9M237 140.5h.9M230 133.5h.9M217.5 126.5h.9M235 140h.9M239 147h.9M228 133.5h.9M221.5 147.5h.9M229.5 137.5h.9M236 140h.9M226 144h.9M235.5 119.5h.9M233.5 149h.9M233 143.5h.9M225 151h.9M223 138.5h.9M213.5 133h.9M237 139.5h.9M224 140h.9M227 143h.9M240.5 139.5h.9M227.5 138h.9M228 132h.9M238 133h.9M237 151.5h.9M242 134h.9M222 117.5h.9M217.5 121.5h.9M215.5 142.5h.9M238 145.5h.9M231 152h.9M226 139.5h.9M231.5 145.5h.9M214 149.5h.9M224.5 147.5h.9M237.5 119.5h.9M232.5 133.5h.9M231.5 154.5h.9M216.5 143.5h.9M224 148h.9M221 144h.9M233.5 143.5h.9M231.5 127h.9M239 132h.9M229.5 143.5h.9M236 136.5h.9M239.5 142.5h.9M244.5 131h.9M226 135.5h.9M226.5 133.5h.9M230.5 157h.9M228 130.5h.9M236.5 142.5h.9M230.5 137.5h.9M219.5 141h.9M225.5 148.5h.9M225 147.5h.9M226 137h.9M226.5 141h.9M230 135.5h.9M226 140h.9M237.5 148h.9M246 135h.9M239 143.5h.9M218 157h.9M236.5 144.5h.9M235.5 151h.9M217 149h.9M233.5 131.5h.9M225 122h.9M232 138.5h.9M231 148h.9M234 144h.9M230.5 143.5h.9M218 141h.9M232.5 130h.9M247.5 146.5h.9M215 125.5h.9M229 146.5h.9M216.5 143h.9M215 122h.9M238 154.5h.9M221.5 141.5h.9M236.5 134.5h.9M236.5 146.5h.9M228 144.5h.9M231 155.5h.9M228.5 145h.9M229 134.5h.9M223 137.5h.9M245 147.5h.9M228.5 143h.9M234 146h.9M240.5 133h.9M233 141.5h.9M211.5 155.5h.9M231.5 144h.9M229.5 138h.9M224 151.5h.9M243 134.5h.9M233.5 149.5h.9M230 147.5h.9M228.5 138h.9M226 143.5h.9M232 146.5h.9M230.5 149h.9M234 139h.9M226 148.5h.9M240 133h.9M232.5 136h.9M243 153h.9M236 138h.9M234.5 132.5h.9M239.5 152.5h.9M225.5 147h.9M239.5 157h.9M229 140h.9M224.5 142.5h.9M233.5 145h.9M230 144.5h.9M216.5 128h.9M227 139h.9M242 133h.9M233 124h.9M239.5 135.5h.9M230 148h.9M235.5 127h.9M234.5 149h.9M234.5 138h.9M231.5 133.5h.9M227.5 143.5h.9M228 149.5h.9M225 136h.9M231.5 134h.9M222 141.5h.9M239.5 131h.9M239 138h.9M228.5 145.5h.9M242 138h.9M226 134.5h.9M228 133h.9M230 132h.9M233.5 129h.9M231 143.5h.9M239.5 135h.9M228 158h.9M234.5 133.5h.9M230.5 138.5h.9M218.5 146h.9M221 146.5h.9M226 129h.9M224 153h.9M222 144.5h.9M231.5 146h.9M230.5 150.5h.9M214.5 140.5h.9M235.5 143h.9M230.5 142h.9M236 145h.9M228.5 132.5h.9M231 144h.9M213.5 131.5h.9M235 143h.9M232.5 155h.9M232.5 132.5h.9M224 139h.9M215 127.5h.9M226 134h.9M229.5 140.5h.9M244 142h.9M240 139.5h.9M223.5 133.5h.9M231 155h.9M243 146.5h.9M242 144h.9M225 143h.9M229.5 150h.9M214 134h.9M208.5 156h.9M242 141h.9M224 146h.9M224.5 138h.9M228.5 142.5h.9M219 150.5h.9M247.5 130h.9M235 131.5h.9M224 119.5h.9M233 153h.9M216 114h.9M226.5 132h.9M234 140.5h.9M211 125h.9M221 147h.9M221 118.5h.9M237 129h.9M231 130h.9M226 141.5h.9M231 137.5h.9M234.5 149.5h.9M226 136.5h.9M241 150.5h.9M238.5 135h.9M231 145h.9M206.5 143.5h.9M242 125h.9M220.5 155h.9M228 139h.9M225 135h.9M230 140.5h.9M225 145.5h.9M234 131h.9M221.5 126h.9M234 138.5h.9M227.5 139h.9M229 148.5h.9M239.5 134h.9M233 138.5h.9M225.5 137.5h.9M232 140h.9M233.5 140h.9M231.5 145h.9M227.5 147.5h.9M232 140.5h.9M215 128.5h.9M223.5 138.5h.9M228.5 130.5h.9M228.5 151.5h.9M230 125h.9M231 139.5h.9M234 133.5h.9M222 147h.9M229 137.5h.9M238.5 142.5h.9M227 141.5h.9M231 138.5h.9M231 147h.9M226.5 135h.9M224.5 135.5h.9M219.5 146.5h.9M220 140.5h.9M231.5 147h.9M233.5 151h.9M229.5 131h.9M226.5 131h.9M230.5 141h.9M228.5 141h.9M226.5 138h.9M227.5 140.5h.9M232.5 146.5h.9M227 142.5h.9M230.5 145.5h.9M228.5 135.5h.9M221.5 150.5h.9M227 145.5h.9M228 140.5h.9M225 127h.9M232 157.5h.9M221.5 140.5h.9M233 141h.9M227 127.5h.9M216 116.5h.9M238.5 147h.9M219 156h.9M226.5 139.5h.9M231.5 149h.9M236.5 136h.9M237.5 137h.9M231 141.5h.9M217.5 130.5h.9M233 126.5h.9M239.5 121.5h.9M219.5 143h.9M227 140.5h.9M236 150.5h.9M225.5 148h.9M228.5 150.5h.9M219 142.5h.9M217 145.5h.9M228.5 144h.9M228 148.5h.9M229.5 134h.9M219 149h.9M235.5 140h.9M224.5 149h.9M234.5 134h.9M211 158h.9M235 134.5h.9M235.5 133h.9M219.5 142h.9M232 136h.9M233.5 132.5h.9M226.5 142.5h.9M226.5 143.5h.9M221.5 142h.9M227 152h.9M245.5 150h.9M229 153.5h.9M228.5 141.5h.9M222.5 142.5h.9M231.5 124.5h.9M240.5 140.5h.9M218.5 155.5h.9M235 132h.9M230 150h.9M215 140.5h.9M235.5 132.5h.9M228.5 152.5h.9M234 141.5h.9M235.5 148.5h.9M208.5 135.5h.9M227.5 128.5h.9M231.5 147.5h.9M228 147h.9M215 142h.9M228.5 147.5h.9M233.5 130h.9M243 131.5h.9M222.5 153h.9M228.5 130h.9M238.5 145.5h.9M231 142.5h.9M237 142h.9M222 148.5h.9M234.5 135h.9M226.5 137h.9M242 139.5h.9M226.5 141.5h.9M248.5 143.5h.9M227.5 134h.9M213 139.5h.9M224.5 149.5h.9M235 127h.9M230 139h.9M228 131.5h.9M239.5 139h.9M230 153h.9M243.5 139h.9M236.5 140.5h.9M228 136h.9M223.5 137.5h.9M222.5 143h.9M232 139h.9M214.5 158h.9M235.5 137h.9M232.5 144.5h.9M227.5 136.5h.9M221 141.5h.9M235 132.5h.9M231.5 138.5h.9M212.5 141.5h.9M236.5 152.5h.9M236 127.5h.9M230 138h.9M236.5 151h.9M244.5 148.5h.9M235.5 129h.9M226.5 125.5h.9M223.5 137h.9M231.5 151.5h.9M238 136.5h.9M228 157.5h.9M238 138.5h.9M219.5 123h.9M231 140h.9M229 139.5h.9M237 148h.9M228 150.5h.9M240 140h.9M228.5 136h.9M225.5 143.5h.9M217.5 157h.9M220.5 147.5h.9M223 142.5h.9M229 134h.9M241 147h.9M229 136h.9M235 142.5h.9M229 143.5h.9M231 153.5h.9M222 130h.9M227.5 152.5h.9M235 124.5h.9M223 150h.9M228.5 129h.9M224.5 143h.9M233 132h.9M217 144.5h.9M226.5 130.5h.9M230.5 134.5h.9M243 144.5h.9M236 143h.9M218 149h.9M233 151.5h.9M228 141h.9M225.5 135.5h.9M221 150.5h.9M229 141h.9M243.5 149h.9M222.5 144.5h.9M220.5 139.5h.9M226.5 139h.9M226 158h.9M236 134.5h.9M229 128.5h.9M224.5 142h.9M222.5 139h.9M234 135h.9M232.5 134h.9M213.5 142.5h.9M231 123.5h.9M225 155.5h.9M218.5 142.5h.9M223 144.5h.9M221.5 156.5h.9M220.5 152.5h.9M239 146.5h.9M228 158.5h.9M235 126h.9M230.5 146.5h.9M235.5 145.5h.9M243 150h.9M226 132h.9M231.5 134.5h.9M232.5 131.5h.9M230.5 130.5h.9M238 130.5h.9M239 146h.9M227 128.5h.9M219.5 145.5h.9M209.5 135.5h.9M230.5 153.5h.9M241 139.5h.9M232 153h.9M232 134h.9M237.5 144h.9M235 156h.9M227.5 149.5h.9M224.5 143.5h.9M242 138.5h.9M241.5 145.5h.9M243.5 150h.9M231.5 141h.9M219.5 144.5h.9M220.5 136.5h.9M236 141.5h.9M240.5 140h.9M222.5 151.5h.9M223 143h.9M249 156.5h.9M234 142h.9M229 145h.9M219.5 147h.9M234.5 133h.9M241.5 128h.9M234.5 144.5h.9M234 132.5h.9M232.5 148.5h.9M236 133.5h.9M225.5 152h.9M223.5 124.5h.9M239 140h.9M234.5 150.5h.9M237 124.5h.9M223.5 148.5h.9M236.5 150h.9M226.5 132.5h.9M215.5 141.5h.9M222 149h.9M227 143.5h.9M223 149.5h.9M234 145.5h.9M241.5 150h.9M236.5 130.5h.9M239 142h.9M228 142h.9M218 148.5h.9M230.5 142.5h.9M239.5 133.5h.9M237 136.5h.9M231 135h.9M242 137h.9M235.5 152.5h.9M227 129h.9M238.5 143h.9M240.5 148h.9M223.5 143.5h.9M241 137h.9M240 141h.9M225.5 126.5h.9M231 133h.9M211.5 139.5h.9M232.5 135h.9M232.5 142h.9M223 144h.9M231.5 153.5h.9M239.5 134.5h.9M244.5 136.5h.9M222.5 136h.9M227 133.5h.9M230.5 152h.9M232.5 139.5h.9M241.5 137.5h.9M231.5 157h.9M226.5 147h.9M241 140h.9M236.5 139.5h.9M217 156.5h.9M224.5 150.5h.9M226.5 142h.9M246 116.5h.9M227.5 148h.9M234.5 124h.9M232.5 154.5h.9M225 125h.9M221.5 150h.9M209.5 134.5h.9M218 148h.9M228.5 135h.9M222 143h.9M237 127.5h.9M219 124.5h.9M203 139h.9M240.5 135.5h.9M236 151h.9M237.5 143h.9M229 142.5h.9M231.5 148h.9M225.5 150h.9M222.5 148h.9M235 142h.9M249 115h.9M227.5 147h.9M216 129.5h.9M223.5 146.5h.9M234.5 137h.9M228.5 131.5h.9M233 138h.9M225 152.5h.9M229.5 136.5h.9M235.5 137.5h.9M214.5 114h.9M240.5 120h.9M214.5 143.5h.9M246.5 146h.9M238.5 135.5h.9M235.5 142.5h.9M229.5 152h.9M228 143.5h.9M235 149.5h.9M221 127h.9M242.5 152.5h.9M246.5 148h.9M233 134h.9M247.5 134.5h.9M224 144h.9M211 140h.9M240.5 147.5h.9M221 143h.9M235.5 130.5h.9M231.5 130.5h.9M236 142.5h.9M229.5 132h.9M231.5 127.5h.9M226.5 140.5h.9M233 155h.9M232 146h.9M229.5 149.5h.9M235 148.5h.9M245.5 129h.9M236.5 150.5h.9M229 144h.9M250.5 148.5h.9M230.5 140.5h.9M219.5 149.5h.9M227 136.5h.9M238.5 149.5h.9M230.5 141.5h.9M222.5 120h.9M233 130.5h.9M225 144h.9M237.5 138h.9M218.5 147h.9M212 142.5h.9M245.5 150.5h.9M225.5 128.5h.9M229.5 141h.9M233.5 147.5h.9M224 149h.9M207 138.5h.9M229.5 139.5h.9M225.5 144.5h.9M237.5 132h.9M232 158.5h.9M231 136h.9M231.5 128h.9M225.5 133.5h.9M233.5 142.5h.9M216.5 156h.9M230 145.5h.9M226.5 135.5h.9M227 135.5h.9M239.5 133h.9M244 147h.9M239 131.5h.9M244 151.5h.9M248 150h.9M223.5 136.5h.9M244 109.5h.9M248 146.5h.9M248.5 156h.9M267.5 111h.9M233 146.5h.9M242 140h.9M228.5 140.5h.9M249.5 150h.9M243 123h.9M224 139.5h.9M245 137.5h.9M221 124h.9M230 130.5h.9M266 149.5h.9M230.5 113h.9M252.5 145.5h.9M246 138.5h.9M243.5 133h.9M211.5 139h.9M208 151h.9M228.5 157.5h.9M218 150h.9M204.5 148.5h.9M216 141.5h.9M237 143h.9M219 128.5h.9M224.5 139h.9M230.5 125h.9M255.5 131h.9M251.5 147.5h.9M240 145.5h.9M252.5 142h.9M243 129.5h.9M252 121.5h.9M241.5 143h.9M244.5 157.5h.9M258.5 133h.9M229.5 128h.9M260.5 155h.9M215.5 141h.9M269 142.5h.9M241 143.5h.9M235 137.5h.9M247 138.5h.9M235 120h.9M252.5 123.5h.9M246.5 133h.9M210.5 125.5h.9M225.5 141h.9M263.5 145.5h.9M235.5 154h.9M235 148h.9M233 147h.9M244.5 134.5h.9M232.5 149.5h.9M229 131h.9M248.5 149h.9M258 130.5h.9M220 151h.9M235 158.5h.9M237.5 154h.9M214 122h.9M251 139h.9M238.5 124h.9M230 155.5h.9M237 131h.9M241.5 126.5h.9M242.5 134h.9M234 134.5h.9M225 154h.9M218 140.5h.9M240 142h.9M242 132h.9M228.5 131h.9M255 120.5h.9M260 131.5h.9M246 138h.9M235.5 144.5h.9M260 136.5h.9M237.5 131h.9M264 152h.9M252.5 138h.9M213 143.5h.9M250.5 131h.9M247 142.5h.9M231.5 142h.9M216.5 126.5h.9M240 148.5h.9M231.5 151h.9M243.5 131h.9M238 116h.9M246 153.5h.9M231.5 143.5h.9M236 128.5h.9M273.5 137.5h.9M246 134.5h.9M274 111h.9M233 140h.9M253 137h.9M224.5 156.5h.9M234.5 134.5h.9M239.5 117h.9M244 141.5h.9M224 153.5h.9M247.5 127h.9M242 152.5h.9M244 137h.9M237 136h.9M233.5 158.5h.9M250 133.5h.9M243.5 141h.9M231 139h.9M240.5 153h.9M225 118h.9M211.5 135h.9M227 124h.9M239 151.5h.9M235.5 145h.9M237.5 130h.9M249 142.5h.9M224 113.5h.9M228 140h.9M247.5 130.5h.9M229.5 136h.9M237.5 151.5h.9M226.5 122h.9M229.5 122h.9M250 146.5h.9M233.5 136.5h.9M245.5 146h.9M254 119h.9M257 141.5h.9M257 137h.9M252.5 136.5h.9M223 140.5h.9M230.5 136.5h.9M243.5 146h.9M245 148.5h.9M217 150.5h.9M226 138h.9M231.5 123h.9M248 124.5h.9M229.5 154h.9M207.5 117h.9M249 132h.9M247 136.5h.9M230.5 145h.9M239.5 124h.9M218 117h.9M252 129.5h.9M236.5 149h.9M195 140.5h.9M241.5 138.5h.9M246.5 155.5h.9M207.5 118.5h.9M258.5 143h.9M237 149.5h.9M220 154.5h.9M262 133h.9M243.5 128.5h.9M243 125.5h.9M252.5 135h.9M239.5 138h.9M249.5 152h.9M267 136.5h.9M262 137.5h.9M254 135h.9M244.5 145h.9M229.5 130.5h.9M200 144.5h.9M235.5 135h.9M253.5 142h.9M240.5 115h.9M250.5 131.5h.9M261.5 127h.9M254.5 135.5h.9M211 145h.9M268.5 143h.9M245 109h.9M248.5 143h.9M236.5 158.5h.9M231 128.5h.9M250 130h.9M224 136h.9M248.5 139.5h.9M256 118.5h.9M235 139.5h.9M236.5 138.5h.9M243.5 122h.9M209 141h.9M254 140h.9M233.5 122h.9M232.5 147h.9M242 146h.9M231 144.5h.9M256.5 134h.9M231.5 152.5h.9M239 123.5h.9M232.5 153.5h.9M246 141h.9M251.5 130.5h.9M252 137h.9M234.5 142.5h.9M232 124.5h.9M242 139h.9M247.5 127.5h.9M232.5 157.5h.9M225.5 153.5h.9M241 135h.9M239.5 149.5h.9M229 126.5h.9M249 133.5h.9M236 136h.9M216.5 158h.9M214.5 149.5h.9M214 141h.9M214 147h.9M215 149h.9M216 154h.9M213.5 155h.9M216 143h.9M214 146h.9M213.5 157h.9M214 148.5h.9M215.5 151h.9M213.5 158.5h.9M215 148h.9M216.5 141.5h.9M215 150h.9M216.5 144h.9M214 144h.9M215.5 146h.9M216.5 147.5h.9M216 155h.9M216 140h.9M216 157.5h.9M214.5 152h.9M213.5 144.5h.9M214.5 140h.9M214.5 144.5h.9M214.5 157.5h.9M215.5 146.5h.9M214 142h.9M215 152.5h.9M216 145.5h.9M215.5 145.5h.9M215 143h.9M215.5 158.5h.9M215 150.5h.9M214 158h.9M213.5 146h.9M216 157h.9M216 151h.9M215 158.5h.9M216 158h.9M214.5 153.5h.9M215 147h.9M214 140.5h.9M214.5 149h.9M192 147.5h.9M198 147.5h.9M212.5 133h.9M193 134.5h.9M211 131h.9M192.5 154.5h.9M199.5 158h.9M202.5 156.5h.9M188.5 148h.9M209 149h.9M189.5 147h.9M194.5 156h.9M200 153h.9M209.5 144h.9M209 143h.9M194.5 152h.9M202.5 134.5h.9M192 147h.9M195.5 139.5h.9M194.5 148.5h.9M200 140h.9M196.5 135.5h.9M212.5 153.5h.9M194.5 144.5h.9M209 149.5h.9M211 146h.9M209.5 154.5h.9M212 151.5h.9M208.5 158h.9M196.5 149.5h.9M201.5 153h.9M207 155h.9M198 148.5h.9M206 158h.9M206 132h.9M202.5 132.5h.9M191 143.5h.9M195 151h.9M209 148h.9M195 156.5h.9M200.5 148h.9M190 139h.9M199.5 136h.9M210.5 158.5h.9M204 148h.9M210 128h.9M208 138.5h.9M197 142.5h.9M189 141h.9M208 158h.9M211 137h.9M203.5 137h.9M193 128h.9M206 150h.9M198.5 141.5h.9M189 130h.9M195.5 147.5h.9M204.5 134.5h.9M200.5 133.5h.9M200.5 153h.9M191 128.5h.9M198.5 157.5h.9M190.5 155.5h.9M202 135h.9M199.5 135.5h.9M186.5 143h.9M199 130h.9M190.5 153.5h.9M206 144h.9M211 154h.9M199.5 151h.9M195 145.5h.9M212 150h.9M218 154.5h.9M201.5 147h.9M190.5 158h.9M219.5 153h.9M197.5 141.5h.9M202.5 151h.9M194.5 155h.9M211.5 145.5h.9M203 143.5h.9M212 146h.9M197 140h.9M198 141.5h.9M212.5 154.5h.9M196.5 146h.9M204.5 151.5h.9M197.5 158.5h.9M185.5 142h.9M210 152h.9M203 144.5h.9M208.5 148h.9M214.5 157h.9M211.5 141h.9M218 158h.9M213 146.5h.9M208 154h.9M204 152h.9M203 153.5h.9M203.5 142.5h.9M211.5 158h.9M204.5 157h.9M200 147.5h.9M211 152.5h.9M199.5 156h.9M215 155h.9M214 156h.9M211.5 146.5h.9M192 149h.9M182 148h.9M197 151.5h.9M200 151h.9M198.5 149.5h.9M215.5 145h.9M192.5 158.5h.9M210.5 150.5h.9M202 152.5h.9M203 147.5h.9M209 146.5h.9M209 144.5h.9M201 152h.9M200 156.5h.9M204.5 152h.9M191 154h.9M205.5 140h.9M206.5 152.5h.9M200 145h.9M205 149.5h.9M219 151h.9M206 142h.9M207 156h.9M201 151.5h.9M202 148.5h.9M184.5 155.5h.9M189.5 157.5h.9M197 148h.9M222.5 145.5h.9M203.5 144h.9M203.5 153h.9M216 136.5h.9M204.5 154h.9M211 146.5h.9M196.5 147h.9M205 145h.9M209.5 144.5h.9M207 142.5h.9M199 152.5h.9M209 145.5h.9M194 154h.9M198 153h.9M214 154.5h.9M194 157.5h.9M212.5 147.5h.9M202 159h.9M207 153.5h.9M212.5 154h.9M225 158.5h.9M206 151.5h.9M203 157.5h.9M196.5 156h.9M201 141h.9M212 153.5h.9M207 149.5h.9M205 147.5h.9M214.5 158.5h.9M204.5 151h.9M206.5 148.5h.9M197 86.5h.9M188.5 98h.9M200.5 93h.9M183.5 96h.9M203 122.5h.9M193.5 97.5h.9M193.5 90h.9M200 111h.9M203 117h.9M192 108.5h.9M208.5 74.5h.9M210.5 88.5h.9M210.5 120.5h.9M209.5 102.5h.9M196.5 74.5h.9M188 108.5h.9M207.5 108.5h.9M197.5 84h.9M273 132h.9M257.5 136h.9M280.5 75h.9M270.5 79.5h.9M255 93.5h.9M267.5 100.5h.9M277.5 114.5h.9M255 84.5h.9M278 151.5h.9M278 84h.9M253.5 148.5h.9M277 94.5h.9M250.5 121h.9M270 109h.9M268.5 85.5h.9M280.5 80h.9M269 109h.9M264.5 108h.9M256 73.5h.9M273 101.5h.9M277.5 72.5h.9M261 75.5h.9M280.5 135h.9M276.5 150h.9M263 87h.9M257 109.5h.9M261.5 150.5h.9M267.5 98h.9M253.5 85h.9M280.5 131.5h.9M262 91.5h.9M257 113.5h.9M269.5 96.5h.9M274 104.5h.9M255 88h.9M262 71.5h.9M263 103.5h.9M277 146.5h.9M258.5 130h.9M261.5 147.5h.9M256.5 98h.9M266 71.5h.9M262.5 88.5h.9M272.5 95.5h.9M261.5 148h.9M255.5 150h.9M254.5 91.5h.9M272.5 92h.9M255 108h.9M255.5 93h.9" stroke="#111" stroke-width="0.9" fill="none"/>
<rect x="171.8" y="53" width="112.7" height="106.5" fill="none" stroke="#111" stroke-width=".85"/>
<line x1="212.8" y1="53" x2="212.8" y2="159.5" stroke="#111" stroke-width="0.8"/>
<line x1="171.8" y1="125.2" x2="284.5" y2="125.2" stroke="#111" stroke-width="0.8"/>
<text x="279" y="65.6" font-size="7.2" font-weight="bold" text-anchor="end">43.1%</text>
<text x="278.8" y="152" font-size="7.2" font-weight="bold" text-anchor="end">54.5%</text>
<text x="54.6" y="165.2" font-size="4.2" text-anchor="middle" fill="#222">10<tspan dy="-1.5" font-size="2.9">0</tspan></text>
<text x="80.5" y="165.2" font-size="4.2" text-anchor="middle" fill="#222">10<tspan dy="-1.5" font-size="2.9">1</tspan></text>
<text x="106" y="165.2" font-size="4.2" text-anchor="middle" fill="#222">10<tspan dy="-1.5" font-size="2.9">2</tspan></text>
<text x="131.4" y="165.2" font-size="4.2" text-anchor="middle" fill="#222">10<tspan dy="-1.5" font-size="2.9">3</tspan></text>
<text x="157" y="165.2" font-size="4.2" text-anchor="middle" fill="#222">10<tspan dy="-1.5" font-size="2.9">4</tspan></text>
<text x="174" y="164.8" font-size="4.2" text-anchor="middle" fill="#222">10<tspan dy="-1.5" font-size="2.9">0</tspan></text>
<text x="200" y="164.8" font-size="4.2" text-anchor="middle" fill="#222">10<tspan dy="-1.5" font-size="2.9">1</tspan></text>
<text x="228" y="164.8" font-size="4.2" text-anchor="middle" fill="#222">10<tspan dy="-1.5" font-size="2.9">2</tspan></text>
<text x="256" y="164.8" font-size="4.2" text-anchor="middle" fill="#222">10<tspan dy="-1.5" font-size="2.9">3</tspan></text>
<text x="284.5" y="164.8" font-size="4.2" text-anchor="middle" fill="#222">10<tspan dy="-1.5" font-size="2.9">4</tspan></text>
<text x="51" y="158.5" font-size="4.2" text-anchor="middle" fill="#222" transform="rotate(-90 51 158.5)">10<tspan dy="-1.5" font-size="2.9">0</tspan></text>
<text x="51" y="132.5" font-size="4.2" text-anchor="middle" fill="#222" transform="rotate(-90 51 132.5)">10<tspan dy="-1.5" font-size="2.9">1</tspan></text>
<text x="51" y="106.5" font-size="4.2" text-anchor="middle" fill="#222" transform="rotate(-90 51 106.5)">10<tspan dy="-1.5" font-size="2.9">2</tspan></text>
<text x="51" y="80.5" font-size="4.2" text-anchor="middle" fill="#222" transform="rotate(-90 51 80.5)">10<tspan dy="-1.5" font-size="2.9">3</tspan></text>
<text x="51" y="54" font-size="4.2" text-anchor="middle" fill="#222" transform="rotate(-90 51 54)">10<tspan dy="-1.5" font-size="2.9">4</tspan></text>
<text x="170.2" y="158" font-size="4.2" text-anchor="middle" fill="#222" transform="rotate(-90 170.2 158)">10<tspan dy="-1.5" font-size="2.9">0</tspan></text>
<text x="170.2" y="132" font-size="4.2" text-anchor="middle" fill="#222" transform="rotate(-90 170.2 132)">10<tspan dy="-1.5" font-size="2.9">1</tspan></text>
<text x="170.2" y="105.5" font-size="4.2" text-anchor="middle" fill="#222" transform="rotate(-90 170.2 105.5)">10<tspan dy="-1.5" font-size="2.9">2</tspan></text>
<text x="170.2" y="79.5" font-size="4.2" text-anchor="middle" fill="#222" transform="rotate(-90 170.2 79.5)">10<tspan dy="-1.5" font-size="2.9">3</tspan></text>
<text x="170.2" y="53.5" font-size="4.2" text-anchor="middle" fill="#222" transform="rotate(-90 170.2 53.5)">10<tspan dy="-1.5" font-size="2.9">4</tspan></text>
<text x="51" y="182.2" font-size="9" text-anchor="start">annexin V</text>
<line x1="93.6" y1="181.1" x2="127" y2="181.1" stroke="#111" stroke-width="1.2"/>
<path d="M132.4 181L124.6 178.3V183.7Z" fill="#111"/>
<text x="36" y="162.4" font-size="9" transform="rotate(-90 36 162.4)">7-AAD</text>
<line x1="30.5" y1="129.4" x2="30.5" y2="91" stroke="#111" stroke-width="1"/>
<path d="M30.4 84.2L27.8 92.4H33Z" fill="#111"/>
<text x="166.2" y="241" font-size="11" font-weight="bold" text-anchor="middle">MM6</text>
<path d="M55 249V244.2H282.4V249" fill="none" stroke="#111" stroke-width="1"/>
<text x="2" y="270" font-size="9" font-weight="bold" text-anchor="start">SU5614</text>
<text x="109.2" y="268" font-size="8.4" font-weight="bold" text-anchor="middle">0 µM</text>
<text x="234" y="265.4" font-size="8.4" font-weight="bold" text-anchor="middle">5 µM</text>
<path d="M61.5 287V389.5H156.4" fill="none" stroke="#111" stroke-width="1"/>
<path d="M61.3 389.2L90 388.8L100 388.2L104 388.6L120 388.8L138 388.5L141.5 388L143 386L143.9 375L144.4 340L144.7 290.5L145.4 290.5L145.7 340L146.3 366L146.8 378L147.6 382.5L149 383.5L150.3 382L150.9 376L151.2 365L151.7 365L152 376L152.6 383L154 387.5L156.4 389.2Z" fill="#111" stroke="#111" stroke-width=".4"/>
<path d="M66.5 303.5H140.5M66.5 301V306M140.5 301V306" fill="none" stroke="#111" stroke-width="1"/>
<text x="104" y="300" font-size="7.2" font-weight="bold" text-anchor="middle">13.1%</text>
<text x="59" y="292.5" font-size="4.8" fill="#222" transform="rotate(-90 59.2 292.5)">2400</text>
<text x="59" y="390.5" font-size="4.8" fill="#222" transform="rotate(-90 59.2 390.8)">0</text>
<text x="64.3" y="396.2" font-size="5.6" text-anchor="middle" fill="#111" stroke="#111" stroke-width=".15">10<tspan dy="-2" font-size="3.5">0</tspan></text>
<text x="88.3" y="396.2" font-size="5.6" text-anchor="middle" fill="#111" stroke="#111" stroke-width=".15">10<tspan dy="-2" font-size="3.5">1</tspan></text>
<text x="112.3" y="396.2" font-size="5.6" text-anchor="middle" fill="#111" stroke="#111" stroke-width=".15">10<tspan dy="-2" font-size="3.5">2</tspan></text>
<text x="136.6" y="396.2" font-size="5.6" text-anchor="middle" fill="#111" stroke="#111" stroke-width=".15">10<tspan dy="-2" font-size="3.5">3</tspan></text>
<text x="160.3" y="396.2" font-size="5.6" text-anchor="middle" fill="#111" stroke="#111" stroke-width=".15">10<tspan dy="-2" font-size="3.5">4</tspan></text>
<path d="M189.5 286V389.5H285.4" fill="none" stroke="#111" stroke-width="1"/>
<path d="M190.0 389.5L205.0 389.2L212.0 388.7L213.0 388.9L214.0 388.5L215.0 389.3L216.0 388.4L217.0 389.3L218.0 389.3L219.0 388.5L220.0 388.7L221.0 389.0L222.0 388.6L223.0 389.3L224.0 388.3L225.0 388.9L226.0 387.8L227.0 387.0L228.0 387.9L229.0 387.3L230.0 387.0L231.0 387.1L232.0 386.3L233.0 385.8L234.0 386.1L235.0 386.9L236.0 386.8L237.0 386.4L238.0 386.0L239.0 386.5L240.0 385.4L241.0 386.0L242.0 385.1L243.0 385.3L244.0 386.2L245.0 384.9L246.0 385.3L247.0 384.0L248.0 384.1L249.0 382.5L250.0 381.8L251.0 381.9L252.0 381.8L253.0 381.6L254.0 381.3L255.0 380.5L256.0 381.0L257.0 380.3L258.0 380.4L259.0 380.6L260.0 381.6L261.0 382.3L262.0 383.1L263.0 383.3L264.0 383.8L265.0 384.2L266.0 384.0L267.0 384.0L268.0 384.1L269.0 384.5L270.0 386.8L271.0 386.8L272.0 387.4L273.0 388.8L274.0 388.7L275.0 387.5L276.0 387.5L277.0 386.4L278.0 385.7L279.0 385.0L280.0 383.2L281.0 387.1L282.0 387.9L283.0 388.5L284.0 389.3L285.0 389.0L285.4 389.5Z" fill="#111" stroke="#111" stroke-width=".4"/>
<path d="M272.3 389.5L272.6 320L272.9 291H273.9L274.2 320L274.6 389.5Z" fill="#111" stroke="#111" stroke-width=".3"/>
<path d="M197.5 303.5H271.5M197.5 300.8V305.8M271.5 300.8V305.8" fill="none" stroke="#111" stroke-width="1"/>
<text x="234" y="299.6" font-size="7.2" font-weight="bold" text-anchor="middle">65.8%</text>
<text x="186.6" y="291.5" font-size="4.8" fill="#222" transform="rotate(-90 186.8 291.5)">1200</text>
<text x="186.6" y="391" font-size="4.8" fill="#222" transform="rotate(-90 186.8 391)">0</text>
<text x="190" y="396.2" font-size="5.6" text-anchor="middle" fill="#111" stroke="#111" stroke-width=".15">10<tspan dy="-2" font-size="3.5">0</tspan></text>
<text x="214.6" y="396.2" font-size="5.6" text-anchor="middle" fill="#111" stroke="#111" stroke-width=".15">10<tspan dy="-2" font-size="3.5">1</tspan></text>
<text x="238.9" y="396.2" font-size="5.6" text-anchor="middle" fill="#111" stroke="#111" stroke-width=".15">10<tspan dy="-2" font-size="3.5">2</tspan></text>
<text x="263" y="396.2" font-size="5.6" text-anchor="middle" fill="#111" stroke="#111" stroke-width=".15">10<tspan dy="-2" font-size="3.5">3</tspan></text>
<text x="287.4" y="396.2" font-size="5.6" text-anchor="middle" fill="#111" stroke="#111" stroke-width=".15">10<tspan dy="-2" font-size="3.5">4</tspan></text>
<path d="M367.5 138.8V138.5M365.1 138.5H369.9" stroke="#111" stroke-width="1" fill="none"/>
<rect x="362.5" y="139.3" width="9.5" height="5.2" fill="#111" stroke="#111" stroke-width="1"/>
<path d="M381.5 135.9V134.5M379.1 134.5H383.9" stroke="#111" stroke-width="1" fill="none"/>
<rect x="377.1" y="136.4" width="9.5" height="8.1" fill="#a9a9a9" stroke="#111" stroke-width="1"/>
<path d="M408.5 119.0V111.5M406.1 111.5H410.9" stroke="#111" stroke-width="1" fill="none"/>
<rect x="403.5" y="119.5" width="9.5" height="25.0" fill="#111" stroke="#111" stroke-width="1"/>
<path d="M422.5 117.0V110.5M420.1 110.5H424.9" stroke="#111" stroke-width="1" fill="none"/>
<rect x="417.8" y="117.5" width="9.5" height="27.0" fill="#a9a9a9" stroke="#111" stroke-width="1"/>
<path d="M449.5 63.2V47.5M447.1 47.5H451.9" stroke="#111" stroke-width="1" fill="none"/>
<rect x="444.4" y="63.7" width="9.5" height="80.8" fill="#111" stroke="#111" stroke-width="1"/>
<path d="M463.5 59.9V43.5M461.1 43.5H465.9" stroke="#111" stroke-width="1" fill="none"/>
<rect x="458.7" y="60.4" width="9.5" height="84.1" fill="#a9a9a9" stroke="#111" stroke-width="1"/>
<path d="M489.5 45.6V42.5M487.1 42.5H491.9" stroke="#111" stroke-width="1" fill="none"/>
<rect x="484.8" y="46.1" width="9.5" height="98.4" fill="#111" stroke="#111" stroke-width="1"/>
<path d="M504.5 36.0V35.5M502.1 35.5H506.9" stroke="#111" stroke-width="1" fill="none"/>
<rect x="499.3" y="36.5" width="9.5" height="108.0" fill="#a9a9a9" stroke="#111" stroke-width="1"/>
<rect x="354.5" y="29.5" width="162.0" height="115.0" fill="none" stroke="#111" stroke-width="1"/>
<line x1="352.3" y1="144.5" x2="354.5" y2="144.5" stroke="#111" stroke-width="1"/>
<line x1="516.5" y1="144.5" x2="518.1" y2="144.5" stroke="#111" stroke-width="0.8"/>
<text x="350.5" y="147.0" font-size="7" text-anchor="end" stroke="#111" stroke-width=".3">0</text>
<line x1="352.3" y1="122.52" x2="354.5" y2="122.52" stroke="#111" stroke-width="1"/>
<line x1="516.5" y1="122.52" x2="518.1" y2="122.52" stroke="#111" stroke-width="0.8"/>
<text x="350.5" y="125.02" font-size="7" text-anchor="end" stroke="#111" stroke-width=".3">20</text>
<line x1="352.3" y1="100.53999999999999" x2="354.5" y2="100.53999999999999" stroke="#111" stroke-width="1"/>
<line x1="516.5" y1="100.53999999999999" x2="518.1" y2="100.53999999999999" stroke="#111" stroke-width="0.8"/>
<text x="350.5" y="103.03999999999999" font-size="7" text-anchor="end" stroke="#111" stroke-width=".3">40</text>
<line x1="352.3" y1="78.56" x2="354.5" y2="78.56" stroke="#111" stroke-width="1"/>
<line x1="516.5" y1="78.56" x2="518.1" y2="78.56" stroke="#111" stroke-width="0.8"/>
<text x="350.5" y="81.06" font-size="7" text-anchor="end" stroke="#111" stroke-width=".3">60</text>
<line x1="352.3" y1="56.58" x2="354.5" y2="56.58" stroke="#111" stroke-width="1"/>
<line x1="516.5" y1="56.58" x2="518.1" y2="56.58" stroke="#111" stroke-width="0.8"/>
<text x="350.5" y="59.08" font-size="7" text-anchor="end" stroke="#111" stroke-width=".3">80</text>
<line x1="352.3" y1="34.60000000000001" x2="354.5" y2="34.60000000000001" stroke="#111" stroke-width="1"/>
<line x1="516.5" y1="34.60000000000001" x2="518.1" y2="34.60000000000001" stroke="#111" stroke-width="0.8"/>
<text x="350.5" y="37.10000000000001" font-size="7" text-anchor="end" stroke="#111" stroke-width=".3">100</text>
<line x1="374.40000000000003" y1="144.5" x2="374.40000000000003" y2="146.5" stroke="#111" stroke-width="1"/>
<line x1="415.25" y1="144.5" x2="415.25" y2="146.5" stroke="#111" stroke-width="1"/>
<line x1="456.15" y1="144.5" x2="456.15" y2="146.5" stroke="#111" stroke-width="1"/>
<line x1="496.65000000000003" y1="144.5" x2="496.65000000000003" y2="146.5" stroke="#111" stroke-width="1"/>
<text x="363.3" y="77" font-size="10.7" font-weight="bold" text-anchor="start">MM1</text>
<rect x="360" y="32.2" width="81.6" height="26.2" fill="#fff" stroke="#111" stroke-width="1"/>
<rect x="363.6" y="36.8" width="12.8" height="3.2" fill="#111" stroke="#111" stroke-width=".8"/>
<rect x="363.6" y="44.2" width="12.8" height="3.2" fill="#a9a9a9" stroke="#111" stroke-width=".8"/>
<text x="379.4" y="40.4" font-size="6.5" font-weight="bold" text-anchor="start">AnnexinV+ 7AAD-</text>
<text x="379.4" y="47.8" font-size="6.5" font-weight="bold" text-anchor="start">AnnexinV+ 7AAD-</text>
<text x="374.2" y="54" font-size="6.5" font-weight="bold" text-anchor="start">+ AnnexinV+ 7AAD+</text>
<path d="M367.5 259.9V259.5M365.1 259.5H369.9" stroke="#111" stroke-width="1" fill="none"/>
<rect x="362.5" y="260.4" width="9.5" height="10.1" fill="#111" stroke="#111" stroke-width="1"/>
<path d="M381.5 254.8V252.5M379.1 252.5H383.9" stroke="#111" stroke-width="1" fill="none"/>
<rect x="377.1" y="255.3" width="9.5" height="15.2" fill="#a9a9a9" stroke="#111" stroke-width="1"/>
<path d="M408.5 253.1V247.5M406.1 247.5H410.9" stroke="#111" stroke-width="1" fill="none"/>
<rect x="403.5" y="253.6" width="9.5" height="16.9" fill="#111" stroke="#111" stroke-width="1"/>
<path d="M422.5 246.7V241.5M420.1 241.5H424.9" stroke="#111" stroke-width="1" fill="none"/>
<rect x="417.8" y="247.2" width="9.5" height="23.3" fill="#a9a9a9" stroke="#111" stroke-width="1"/>
<path d="M448.5 198.6V177.5M446.1 177.5H450.9" stroke="#111" stroke-width="1" fill="none"/>
<rect x="443.9" y="199.1" width="9.5" height="71.4" fill="#111" stroke="#111" stroke-width="1"/>
<path d="M463.5 185.6V166.5M461.1 166.5H465.9" stroke="#111" stroke-width="1" fill="none"/>
<rect x="458.5" y="186.1" width="9.5" height="84.4" fill="#a9a9a9" stroke="#111" stroke-width="1"/>
<path d="M489.5 201.2V190.5M487.1 190.5H491.9" stroke="#111" stroke-width="1" fill="none"/>
<rect x="484.5" y="201.7" width="9.5" height="68.8" fill="#111" stroke="#111" stroke-width="1"/>
<path d="M503.5 165.7V162.5M501.1 162.5H505.9" stroke="#111" stroke-width="1" fill="none"/>
<rect x="498.9" y="166.2" width="9.5" height="104.3" fill="#a9a9a9" stroke="#111" stroke-width="1"/>
<rect x="354.5" y="155.5" width="162.0" height="115.0" fill="none" stroke="#111" stroke-width="1"/>
<line x1="352.3" y1="270.5" x2="354.5" y2="270.5" stroke="#111" stroke-width="1"/>
<line x1="516.5" y1="270.5" x2="518.1" y2="270.5" stroke="#111" stroke-width="0.8"/>
<text x="350.5" y="273.0" font-size="7" text-anchor="end" stroke="#111" stroke-width=".3">0</text>
<line x1="352.3" y1="248.5" x2="354.5" y2="248.5" stroke="#111" stroke-width="1"/>
<line x1="516.5" y1="248.5" x2="518.1" y2="248.5" stroke="#111" stroke-width="0.8"/>
<text x="350.5" y="251.0" font-size="7" text-anchor="end" stroke="#111" stroke-width=".3">20</text>
<line x1="352.3" y1="226.5" x2="354.5" y2="226.5" stroke="#111" stroke-width="1"/>
<line x1="516.5" y1="226.5" x2="518.1" y2="226.5" stroke="#111" stroke-width="0.8"/>
<text x="350.5" y="229.0" font-size="7" text-anchor="end" stroke="#111" stroke-width=".3">40</text>
<line x1="352.3" y1="204.5" x2="354.5" y2="204.5" stroke="#111" stroke-width="1"/>
<line x1="516.5" y1="204.5" x2="518.1" y2="204.5" stroke="#111" stroke-width="0.8"/>
<text x="350.5" y="207.0" font-size="7" text-anchor="end" stroke="#111" stroke-width=".3">60</text>
<line x1="352.3" y1="182.5" x2="354.5" y2="182.5" stroke="#111" stroke-width="1"/>
<line x1="516.5" y1="182.5" x2="518.1" y2="182.5" stroke="#111" stroke-width="0.8"/>
<text x="350.5" y="185.0" font-size="7" text-anchor="end" stroke="#111" stroke-width=".3">80</text>
<line x1="352.3" y1="160.5" x2="354.5" y2="160.5" stroke="#111" stroke-width="1"/>
<line x1="516.5" y1="160.5" x2="518.1" y2="160.5" stroke="#111" stroke-width="0.8"/>
<text x="350.5" y="163.0" font-size="7" text-anchor="end" stroke="#111" stroke-width=".3">100</text>
<line x1="374.40000000000003" y1="270.5" x2="374.40000000000003" y2="272.5" stroke="#111" stroke-width="1"/>
<line x1="415.25" y1="270.5" x2="415.25" y2="272.5" stroke="#111" stroke-width="1"/>
<line x1="455.8" y1="270.5" x2="455.8" y2="272.5" stroke="#111" stroke-width="1"/>
<line x1="496.3" y1="270.5" x2="496.3" y2="272.5" stroke="#111" stroke-width="1"/>
<text x="363" y="168.8" font-size="11" font-weight="bold" text-anchor="start">MM6</text>
<path d="M364.5 391.5V390.5M362.1 390.5H366.9" stroke="#111" stroke-width="1" fill="none"/>
<rect x="359.8" y="392.0" width="9.5" height="5.5" fill="#111" stroke="#111" stroke-width="1"/>
<path d="M379.5 381.7V377.5M377.1 377.5H381.9" stroke="#111" stroke-width="1" fill="none"/>
<rect x="374.5" y="382.2" width="9.5" height="15.3" fill="#a9a9a9" stroke="#111" stroke-width="1"/>
<path d="M405.5 387.7V387.5M403.1 387.5H407.9" stroke="#111" stroke-width="1" fill="none"/>
<rect x="400.9" y="388.2" width="9.5" height="9.3" fill="#111" stroke="#111" stroke-width="1"/>
<path d="M420.5 364.8V361.5M418.1 361.5H422.9" stroke="#111" stroke-width="1" fill="none"/>
<rect x="415.5" y="365.3" width="9.5" height="32.2" fill="#a9a9a9" stroke="#111" stroke-width="1"/>
<path d="M447.5 378.6V373.5M445.1 373.5H449.9" stroke="#111" stroke-width="1" fill="none"/>
<rect x="442.5" y="379.1" width="9.5" height="18.4" fill="#111" stroke="#111" stroke-width="1"/>
<path d="M461.5 329.6V315.5M459.1 315.5H463.9" stroke="#111" stroke-width="1" fill="none"/>
<rect x="457.1" y="330.1" width="9.5" height="67.4" fill="#a9a9a9" stroke="#111" stroke-width="1"/>
<path d="M488.5 350.2V343.5M486.1 343.5H490.9" stroke="#111" stroke-width="1" fill="none"/>
<rect x="483.5" y="350.7" width="9.5" height="46.8" fill="#111" stroke="#111" stroke-width="1"/>
<path d="M502.5 298.5V294.5M500.1 294.5H504.9" stroke="#111" stroke-width="1" fill="none"/>
<rect x="498.0" y="299.0" width="9.5" height="98.5" fill="#a9a9a9" stroke="#111" stroke-width="1"/>
<rect x="351.5" y="281.5" width="164.0" height="116.0" fill="none" stroke="#111" stroke-width="1"/>
<line x1="349.3" y1="397.5" x2="351.5" y2="397.5" stroke="#111" stroke-width="1"/>
<line x1="515.5" y1="397.5" x2="517.1" y2="397.5" stroke="#111" stroke-width="0.8"/>
<text x="347.5" y="400.0" font-size="7" text-anchor="end" stroke="#111" stroke-width=".3">0</text>
<line x1="349.3" y1="375.3" x2="351.5" y2="375.3" stroke="#111" stroke-width="1"/>
<line x1="515.5" y1="375.3" x2="517.1" y2="375.3" stroke="#111" stroke-width="0.8"/>
<text x="347.5" y="377.8" font-size="7" text-anchor="end" stroke="#111" stroke-width=".3">20</text>
<line x1="349.3" y1="353.1" x2="351.5" y2="353.1" stroke="#111" stroke-width="1"/>
<line x1="515.5" y1="353.1" x2="517.1" y2="353.1" stroke="#111" stroke-width="0.8"/>
<text x="347.5" y="355.6" font-size="7" text-anchor="end" stroke="#111" stroke-width=".3">40</text>
<line x1="349.3" y1="330.9" x2="351.5" y2="330.9" stroke="#111" stroke-width="1"/>
<line x1="515.5" y1="330.9" x2="517.1" y2="330.9" stroke="#111" stroke-width="0.8"/>
<text x="347.5" y="333.4" font-size="7" text-anchor="end" stroke="#111" stroke-width=".3">60</text>
<line x1="349.3" y1="308.7" x2="351.5" y2="308.7" stroke="#111" stroke-width="1"/>
<line x1="515.5" y1="308.7" x2="517.1" y2="308.7" stroke="#111" stroke-width="0.8"/>
<text x="347.5" y="311.2" font-size="7" text-anchor="end" stroke="#111" stroke-width=".3">80</text>
<line x1="349.3" y1="286.5" x2="351.5" y2="286.5" stroke="#111" stroke-width="1"/>
<line x1="515.5" y1="286.5" x2="517.1" y2="286.5" stroke="#111" stroke-width="0.8"/>
<text x="347.5" y="289.0" font-size="7" text-anchor="end" stroke="#111" stroke-width=".3">100</text>
<line x1="371.75" y1="397.5" x2="371.75" y2="399.5" stroke="#111" stroke-width="1"/>
<line x1="412.8" y1="397.5" x2="412.8" y2="399.5" stroke="#111" stroke-width="1"/>
<line x1="454.40000000000003" y1="397.5" x2="454.40000000000003" y2="399.5" stroke="#111" stroke-width="1"/>
<line x1="495.35" y1="397.5" x2="495.35" y2="399.5" stroke="#111" stroke-width="1"/>
<text x="360.8" y="294.6" font-size="11" font-weight="bold" text-anchor="start" letter-spacing="0.35">MV4-11</text>
<text x="371" y="409.2" font-size="7" text-anchor="middle" stroke="#111" stroke-width=".25">0</text>
<text x="412.6" y="409.2" font-size="7" text-anchor="middle" stroke="#111" stroke-width=".25">0.1</text>
<text x="454" y="409.2" font-size="7" text-anchor="middle" stroke="#111" stroke-width=".25">1</text>
<text x="495.4" y="409.2" font-size="7" text-anchor="middle" stroke="#111" stroke-width=".25">5</text>
<text x="436.4" y="436.7" font-size="11" font-weight="bold" text-anchor="middle">SU 5614 (µM)</text>
<text x="318" y="390.6" font-size="11.2" font-weight="bold" transform="rotate(-90 318 390.6)">percentage of cells</text>
<line x1="314.1" y1="275.6" x2="314.1" y2="226.6" stroke="#111" stroke-width="1.2"/>
<path d="M311 231.4L314 226.2L317 231.4" fill="none" stroke="#111" stroke-width="1"/>
</svg></body></html>
